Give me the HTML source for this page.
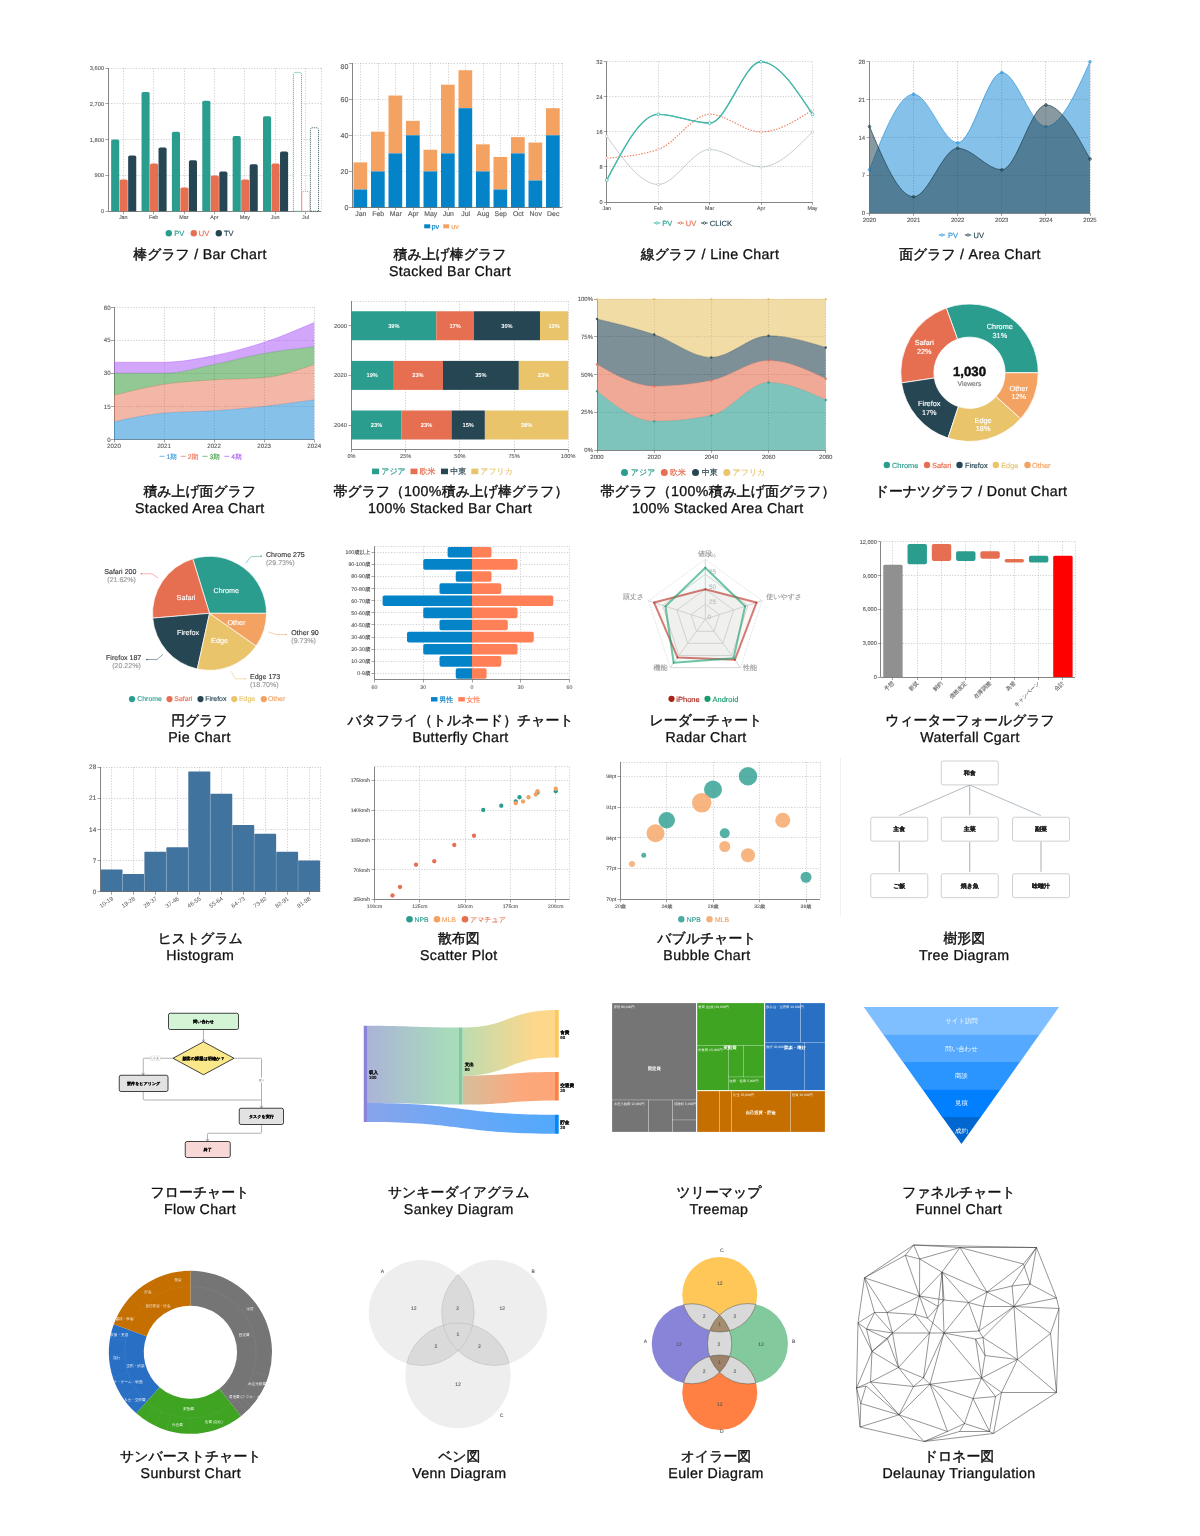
<!DOCTYPE html>
<html lang="ja"><head><meta charset="utf-8"><title>Chart types</title>
<style>
html,body{margin:0;padding:0;background:#fff}
body{width:1200px;height:1536px;overflow:hidden;font-family:"Liberation Sans",sans-serif}
svg{display:block;position:absolute;left:0;top:0;font-family:"Liberation Sans",sans-serif;text-rendering:geometricPrecision;will-change:transform}
</style></head><body>
<svg width="1200" height="1536" viewBox="0 0 1200 1536">
<line x1="105.3" y1="211.5" x2="108.3" y2="211.5" stroke="#666" stroke-width="0.6"/>
<text x="104.1" y="213.3" font-size="5.7" fill="#5a5a5a" text-anchor="end" stroke="#5a5a5a" stroke-width="0.11">0</text>
<line x1="108.3" y1="175.5" x2="321.25" y2="175.5" stroke="#bcbcbc" stroke-width="0.7" stroke-dasharray="1.2 1.55"/>
<line x1="105.3" y1="175.5" x2="108.3" y2="175.5" stroke="#666" stroke-width="0.6"/>
<text x="104.1" y="177.49" font-size="5.7" fill="#5a5a5a" text-anchor="end" stroke="#5a5a5a" stroke-width="0.11">900</text>
<line x1="108.3" y1="139.5" x2="321.25" y2="139.5" stroke="#bcbcbc" stroke-width="0.7" stroke-dasharray="1.2 1.55"/>
<line x1="105.3" y1="139.5" x2="108.3" y2="139.5" stroke="#666" stroke-width="0.6"/>
<text x="104.1" y="141.68" font-size="5.7" fill="#5a5a5a" text-anchor="end" stroke="#5a5a5a" stroke-width="0.11">1,800</text>
<line x1="108.3" y1="103.5" x2="321.25" y2="103.5" stroke="#bcbcbc" stroke-width="0.7" stroke-dasharray="1.2 1.55"/>
<line x1="105.3" y1="103.5" x2="108.3" y2="103.5" stroke="#666" stroke-width="0.6"/>
<text x="104.1" y="105.86" font-size="5.7" fill="#5a5a5a" text-anchor="end" stroke="#5a5a5a" stroke-width="0.11">2,700</text>
<line x1="108.3" y1="68.5" x2="321.25" y2="68.5" stroke="#bcbcbc" stroke-width="0.7" stroke-dasharray="1.2 1.55"/>
<line x1="105.3" y1="68.5" x2="108.3" y2="68.5" stroke="#666" stroke-width="0.6"/>
<text x="104.1" y="70.05" font-size="5.7" fill="#5a5a5a" text-anchor="end" stroke="#5a5a5a" stroke-width="0.11">3,600</text>
<line x1="123.5" y1="68" x2="123.5" y2="211.25" stroke="#bcbcbc" stroke-width="0.7" stroke-dasharray="1.2 1.55"/>
<line x1="153.5" y1="68" x2="153.5" y2="211.25" stroke="#bcbcbc" stroke-width="0.7" stroke-dasharray="1.2 1.55"/>
<line x1="184.5" y1="68" x2="184.5" y2="211.25" stroke="#bcbcbc" stroke-width="0.7" stroke-dasharray="1.2 1.55"/>
<line x1="214.5" y1="68" x2="214.5" y2="211.25" stroke="#bcbcbc" stroke-width="0.7" stroke-dasharray="1.2 1.55"/>
<line x1="244.5" y1="68" x2="244.5" y2="211.25" stroke="#bcbcbc" stroke-width="0.7" stroke-dasharray="1.2 1.55"/>
<line x1="275.5" y1="68" x2="275.5" y2="211.25" stroke="#bcbcbc" stroke-width="0.7" stroke-dasharray="1.2 1.55"/>
<line x1="305.5" y1="68" x2="305.5" y2="211.25" stroke="#bcbcbc" stroke-width="0.7" stroke-dasharray="1.2 1.55"/>
<line x1="321.5" y1="68" x2="321.5" y2="211.25" stroke="#bcbcbc" stroke-width="0.7" stroke-dasharray="1.2 1.55"/>
<line x1="108.5" y1="68" x2="108.5" y2="211.25" stroke="#666" stroke-width="0.8"/>
<line x1="108.3" y1="211.5" x2="321.25" y2="211.5" stroke="#666" stroke-width="0.8"/>
<line x1="123.5" y1="211.25" x2="123.5" y2="214.25" stroke="#666" stroke-width="0.6"/>
<text x="123.25" y="219.39" font-size="5.4" fill="#5a5a5a" text-anchor="middle" stroke="#5a5a5a" stroke-width="0.11">Jan</text>
<path d="M111.15 211.25V141.32Q111.15 139.62 112.85 139.62H117.55Q119.25 139.62 119.25 141.32V211.25Z" fill="#2a9d8f"/>
<path d="M119.65 211.25V181.12Q119.65 179.42 121.35 179.42H126.05Q127.75 179.42 127.75 181.12V211.25Z" fill="#e76f51"/>
<path d="M128.15 211.25V157.24Q128.15 155.54 129.85 155.54H134.55Q136.25 155.54 136.25 157.24V211.25Z" fill="#264653"/>
<line x1="153.5" y1="211.25" x2="153.5" y2="214.25" stroke="#666" stroke-width="0.6"/>
<text x="153.62" y="219.39" font-size="5.4" fill="#5a5a5a" text-anchor="middle" stroke="#5a5a5a" stroke-width="0.11">Feb</text>
<path d="M141.53 211.25V93.58Q141.53 91.88 143.22 91.88H147.93Q149.62 91.88 149.62 93.58V211.25Z" fill="#2a9d8f"/>
<path d="M150.03 211.25V165.2Q150.03 163.5 151.72 163.5H156.43Q158.12 163.5 158.12 165.2V211.25Z" fill="#e76f51"/>
<path d="M158.53 211.25V149.28Q158.53 147.58 160.22 147.58H164.93Q166.62 147.58 166.62 149.28V211.25Z" fill="#264653"/>
<line x1="184.5" y1="211.25" x2="184.5" y2="214.25" stroke="#666" stroke-width="0.6"/>
<text x="184" y="219.39" font-size="5.4" fill="#5a5a5a" text-anchor="middle" stroke="#5a5a5a" stroke-width="0.11">Mar</text>
<path d="M171.9 211.25V133.37Q171.9 131.67 173.6 131.67H178.3Q180 131.67 180 133.37V211.25Z" fill="#2a9d8f"/>
<path d="M180.4 211.25V189.07Q180.4 187.38 182.1 187.38H186.8Q188.5 187.38 188.5 189.07V211.25Z" fill="#e76f51"/>
<path d="M188.9 211.25V162.02Q188.9 160.32 190.6 160.32H195.3Q197 160.32 197 162.02V211.25Z" fill="#264653"/>
<line x1="214.5" y1="211.25" x2="214.5" y2="214.25" stroke="#666" stroke-width="0.6"/>
<text x="214.38" y="219.39" font-size="5.4" fill="#5a5a5a" text-anchor="middle" stroke="#5a5a5a" stroke-width="0.11">Apr</text>
<path d="M202.28 211.25V102.33Q202.28 100.63 203.97 100.63H208.68Q210.38 100.63 210.38 102.33V211.25Z" fill="#2a9d8f"/>
<path d="M210.78 211.25V177.14Q210.78 175.44 212.47 175.44H217.18Q218.88 175.44 218.88 177.14V211.25Z" fill="#e76f51"/>
<path d="M219.28 211.25V173.16Q219.28 171.46 220.97 171.46H225.68Q227.38 171.46 227.38 173.16V211.25Z" fill="#264653"/>
<line x1="244.5" y1="211.25" x2="244.5" y2="214.25" stroke="#666" stroke-width="0.6"/>
<text x="244.75" y="219.39" font-size="5.4" fill="#5a5a5a" text-anchor="middle" stroke="#5a5a5a" stroke-width="0.11">May</text>
<path d="M232.65 211.25V137.74Q232.65 136.04 234.35 136.04H239.05Q240.75 136.04 240.75 137.74V211.25Z" fill="#2a9d8f"/>
<path d="M241.15 211.25V181.12Q241.15 179.42 242.85 179.42H247.55Q249.25 179.42 249.25 181.12V211.25Z" fill="#e76f51"/>
<path d="M249.65 211.25V166Q249.65 164.3 251.35 164.3H256.05Q257.75 164.3 257.75 166V211.25Z" fill="#264653"/>
<line x1="275.5" y1="211.25" x2="275.5" y2="214.25" stroke="#666" stroke-width="0.6"/>
<text x="275.12" y="219.39" font-size="5.4" fill="#5a5a5a" text-anchor="middle" stroke="#5a5a5a" stroke-width="0.11">Jun</text>
<path d="M263.02 211.25V117.85Q263.02 116.15 264.72 116.15H269.43Q271.12 116.15 271.12 117.85V211.25Z" fill="#2a9d8f"/>
<path d="M271.52 211.25V165.2Q271.52 163.5 273.22 163.5H277.93Q279.62 163.5 279.62 165.2V211.25Z" fill="#e76f51"/>
<path d="M280.02 211.25V153.26Q280.02 151.56 281.72 151.56H286.43Q288.12 151.56 288.12 153.26V211.25Z" fill="#264653"/>
<line x1="305.5" y1="211.25" x2="305.5" y2="214.25" stroke="#666" stroke-width="0.6"/>
<text x="305.5" y="219.39" font-size="5.4" fill="#5a5a5a" text-anchor="middle" stroke="#5a5a5a" stroke-width="0.11">Jul</text>
<path d="M293.4 211.25V74.58Q293.4 72.38 295.6 72.38H299.3Q301.5 72.38 301.5 74.58V211.25Z" fill="#fff" stroke="#2a9d8f" stroke-width="0.9" stroke-dasharray="1 1"/>
<path d="M301.9 211.25V193.55Q301.9 191.35 304.1 191.35H307.8Q310 191.35 310 193.55V211.25Z" fill="#fff" stroke="#e76f51" stroke-width="0.9" stroke-dasharray="1 1"/>
<path d="M310.4 211.25V129.89Q310.4 127.69 312.6 127.69H316.3Q318.5 127.69 318.5 129.89V211.25Z" fill="#fff" stroke="#264653" stroke-width="0.9" stroke-dasharray="1 1"/>
<circle cx="168.8" cy="233.2" r="3.2" fill="#2a9d8f"/>
<text x="174.3" y="235.9" font-size="7.5" fill="#2a9d8f" stroke="#2a9d8f" stroke-width="0.15">PV</text>
<circle cx="193.8" cy="233.2" r="3.2" fill="#e76f51"/>
<text x="198.8" y="235.9" font-size="7.5" fill="#e76f51" stroke="#e76f51" stroke-width="0.15">UV</text>
<circle cx="218.8" cy="233.2" r="3.2" fill="#264653"/>
<text x="224" y="235.9" font-size="7.5" fill="#264653" stroke="#264653" stroke-width="0.15">TV</text>
<text x="200" y="258.7" font-size="14.2" fill="#111" stroke="#111" stroke-width="0.2" text-anchor="middle"><tspan font-size="13.9" stroke-width="0.42">棒グラフ</tspan><tspan letter-spacing="0.36" stroke-width="0.3"> / Bar Chart</tspan></text>
<line x1="349" y1="207.5" x2="352" y2="207.5" stroke="#666" stroke-width="0.6"/>
<text x="348.4" y="210.12" font-size="7" fill="#5a5a5a" text-anchor="end" stroke="#5a5a5a" stroke-width="0.14">0</text>
<line x1="352" y1="171.5" x2="562" y2="171.5" stroke="#bcbcbc" stroke-width="0.7" stroke-dasharray="1.2 1.55"/>
<line x1="349" y1="171.5" x2="352" y2="171.5" stroke="#666" stroke-width="0.6"/>
<text x="348.4" y="173.97" font-size="7" fill="#5a5a5a" text-anchor="end" stroke="#5a5a5a" stroke-width="0.14">20</text>
<line x1="352" y1="135.5" x2="562" y2="135.5" stroke="#bcbcbc" stroke-width="0.7" stroke-dasharray="1.2 1.55"/>
<line x1="349" y1="135.5" x2="352" y2="135.5" stroke="#666" stroke-width="0.6"/>
<text x="348.4" y="137.82" font-size="7" fill="#5a5a5a" text-anchor="end" stroke="#5a5a5a" stroke-width="0.14">40</text>
<line x1="352" y1="99.5" x2="562" y2="99.5" stroke="#bcbcbc" stroke-width="0.7" stroke-dasharray="1.2 1.55"/>
<line x1="349" y1="99.5" x2="352" y2="99.5" stroke="#666" stroke-width="0.6"/>
<text x="348.4" y="101.67" font-size="7" fill="#5a5a5a" text-anchor="end" stroke="#5a5a5a" stroke-width="0.14">60</text>
<line x1="352" y1="63.5" x2="562" y2="63.5" stroke="#bcbcbc" stroke-width="0.7" stroke-dasharray="1.2 1.55"/>
<line x1="349" y1="63.5" x2="352" y2="63.5" stroke="#666" stroke-width="0.6"/>
<text x="348.4" y="68.52" font-size="7" fill="#5a5a5a" text-anchor="end" stroke="#5a5a5a" stroke-width="0.14">80</text>
<line x1="360.5" y1="63" x2="360.5" y2="207.6" stroke="#bcbcbc" stroke-width="0.7" stroke-dasharray="1.2 1.55"/>
<line x1="378.5" y1="63" x2="378.5" y2="207.6" stroke="#bcbcbc" stroke-width="0.7" stroke-dasharray="1.2 1.55"/>
<line x1="395.5" y1="63" x2="395.5" y2="207.6" stroke="#bcbcbc" stroke-width="0.7" stroke-dasharray="1.2 1.55"/>
<line x1="413.5" y1="63" x2="413.5" y2="207.6" stroke="#bcbcbc" stroke-width="0.7" stroke-dasharray="1.2 1.55"/>
<line x1="430.5" y1="63" x2="430.5" y2="207.6" stroke="#bcbcbc" stroke-width="0.7" stroke-dasharray="1.2 1.55"/>
<line x1="448.5" y1="63" x2="448.5" y2="207.6" stroke="#bcbcbc" stroke-width="0.7" stroke-dasharray="1.2 1.55"/>
<line x1="465.5" y1="63" x2="465.5" y2="207.6" stroke="#bcbcbc" stroke-width="0.7" stroke-dasharray="1.2 1.55"/>
<line x1="483.5" y1="63" x2="483.5" y2="207.6" stroke="#bcbcbc" stroke-width="0.7" stroke-dasharray="1.2 1.55"/>
<line x1="500.5" y1="63" x2="500.5" y2="207.6" stroke="#bcbcbc" stroke-width="0.7" stroke-dasharray="1.2 1.55"/>
<line x1="518.5" y1="63" x2="518.5" y2="207.6" stroke="#bcbcbc" stroke-width="0.7" stroke-dasharray="1.2 1.55"/>
<line x1="535.5" y1="63" x2="535.5" y2="207.6" stroke="#bcbcbc" stroke-width="0.7" stroke-dasharray="1.2 1.55"/>
<line x1="553.5" y1="63" x2="553.5" y2="207.6" stroke="#bcbcbc" stroke-width="0.7" stroke-dasharray="1.2 1.55"/>
<line x1="562.5" y1="63" x2="562.5" y2="207.6" stroke="#bcbcbc" stroke-width="0.7" stroke-dasharray="1.2 1.55"/>
<rect x="353.5" y="162.41" width="13.7" height="27.11" fill="#f4a261"/>
<rect x="353.5" y="189.53" width="13.7" height="18.07" fill="#0583c9"/>
<line x1="360.5" y1="207.6" x2="360.5" y2="210.1" stroke="#666" stroke-width="0.6"/>
<text x="360.75" y="216.38" font-size="6.9" fill="#5a5a5a" text-anchor="middle" stroke="#5a5a5a" stroke-width="0.14">Jan</text>
<rect x="371" y="131.69" width="13.7" height="39.76" fill="#f4a261"/>
<rect x="371" y="171.45" width="13.7" height="36.15" fill="#0583c9"/>
<line x1="378.5" y1="207.6" x2="378.5" y2="210.1" stroke="#666" stroke-width="0.6"/>
<text x="378.25" y="216.38" font-size="6.9" fill="#5a5a5a" text-anchor="middle" stroke="#5a5a5a" stroke-width="0.14">Feb</text>
<rect x="388.5" y="95.54" width="13.7" height="57.84" fill="#f4a261"/>
<rect x="388.5" y="153.38" width="13.7" height="54.23" fill="#0583c9"/>
<line x1="395.5" y1="207.6" x2="395.5" y2="210.1" stroke="#666" stroke-width="0.6"/>
<text x="395.75" y="216.38" font-size="6.9" fill="#5a5a5a" text-anchor="middle" stroke="#5a5a5a" stroke-width="0.14">Mar</text>
<rect x="406" y="120.84" width="13.7" height="14.46" fill="#f4a261"/>
<rect x="406" y="135.3" width="13.7" height="72.3" fill="#0583c9"/>
<line x1="413.5" y1="207.6" x2="413.5" y2="210.1" stroke="#666" stroke-width="0.6"/>
<text x="413.25" y="216.38" font-size="6.9" fill="#5a5a5a" text-anchor="middle" stroke="#5a5a5a" stroke-width="0.14">Apr</text>
<rect x="423.5" y="149.76" width="13.7" height="21.69" fill="#f4a261"/>
<rect x="423.5" y="171.45" width="13.7" height="36.15" fill="#0583c9"/>
<line x1="430.5" y1="207.6" x2="430.5" y2="210.1" stroke="#666" stroke-width="0.6"/>
<text x="430.75" y="216.38" font-size="6.9" fill="#5a5a5a" text-anchor="middle" stroke="#5a5a5a" stroke-width="0.14">May</text>
<rect x="441" y="84.69" width="13.7" height="68.69" fill="#f4a261"/>
<rect x="441" y="153.38" width="13.7" height="54.23" fill="#0583c9"/>
<line x1="448.5" y1="207.6" x2="448.5" y2="210.1" stroke="#666" stroke-width="0.6"/>
<text x="448.25" y="216.38" font-size="6.9" fill="#5a5a5a" text-anchor="middle" stroke="#5a5a5a" stroke-width="0.14">Jun</text>
<rect x="458.5" y="70.23" width="13.7" height="37.96" fill="#f4a261"/>
<rect x="458.5" y="108.19" width="13.7" height="99.41" fill="#0583c9"/>
<line x1="465.5" y1="207.6" x2="465.5" y2="210.1" stroke="#666" stroke-width="0.6"/>
<text x="465.75" y="216.38" font-size="6.9" fill="#5a5a5a" text-anchor="middle" stroke="#5a5a5a" stroke-width="0.14">Jul</text>
<rect x="476" y="144.34" width="13.7" height="27.11" fill="#f4a261"/>
<rect x="476" y="171.45" width="13.7" height="36.15" fill="#0583c9"/>
<line x1="483.5" y1="207.6" x2="483.5" y2="210.1" stroke="#666" stroke-width="0.6"/>
<text x="483.25" y="216.38" font-size="6.9" fill="#5a5a5a" text-anchor="middle" stroke="#5a5a5a" stroke-width="0.14">Aug</text>
<rect x="493.5" y="156.99" width="13.7" height="32.53" fill="#f4a261"/>
<rect x="493.5" y="189.53" width="13.7" height="18.07" fill="#0583c9"/>
<line x1="500.5" y1="207.6" x2="500.5" y2="210.1" stroke="#666" stroke-width="0.6"/>
<text x="500.75" y="216.38" font-size="6.9" fill="#5a5a5a" text-anchor="middle" stroke="#5a5a5a" stroke-width="0.14">Sep</text>
<rect x="511" y="137.11" width="13.7" height="16.27" fill="#f4a261"/>
<rect x="511" y="153.38" width="13.7" height="54.23" fill="#0583c9"/>
<line x1="518.5" y1="207.6" x2="518.5" y2="210.1" stroke="#666" stroke-width="0.6"/>
<text x="518.25" y="216.38" font-size="6.9" fill="#5a5a5a" text-anchor="middle" stroke="#5a5a5a" stroke-width="0.14">Oct</text>
<rect x="528.5" y="142.53" width="13.7" height="37.96" fill="#f4a261"/>
<rect x="528.5" y="180.49" width="13.7" height="27.11" fill="#0583c9"/>
<line x1="535.5" y1="207.6" x2="535.5" y2="210.1" stroke="#666" stroke-width="0.6"/>
<text x="535.75" y="216.38" font-size="6.9" fill="#5a5a5a" text-anchor="middle" stroke="#5a5a5a" stroke-width="0.14">Nov</text>
<rect x="546" y="108.19" width="13.7" height="27.11" fill="#f4a261"/>
<rect x="546" y="135.3" width="13.7" height="72.3" fill="#0583c9"/>
<line x1="553.5" y1="207.6" x2="553.5" y2="210.1" stroke="#666" stroke-width="0.6"/>
<text x="553.25" y="216.38" font-size="6.9" fill="#5a5a5a" text-anchor="middle" stroke="#5a5a5a" stroke-width="0.14">Dec</text>
<line x1="352.5" y1="63" x2="352.5" y2="207.6" stroke="#666" stroke-width="0.8"/>
<line x1="352" y1="207.5" x2="562" y2="207.5" stroke="#666" stroke-width="0.8"/>
<rect x="424.2" y="224.3" width="6" height="4" fill="#0583c9"/>
<text x="431.5" y="228.63" font-size="7.3" fill="#0583c9" stroke="#0583c9" stroke-width="0.15">pv</text>
<rect x="443.2" y="224.3" width="6" height="4" fill="#f4a261"/>
<text x="451.2" y="228.63" font-size="7.3" fill="#f4a261" stroke="#f4a261" stroke-width="0.15">uv</text>
<text x="450" y="258.7" font-size="14.2" fill="#111" stroke="#111" stroke-width="0.2" text-anchor="middle"><tspan font-size="13.9" stroke-width="0.42">積み上げ棒グラフ</tspan></text>
<text x="450" y="275.9" font-size="14.2" fill="#111" stroke="#111" stroke-width="0.2" text-anchor="middle"><tspan letter-spacing="0.36" stroke-width="0.3">Stacked Bar Chart</tspan></text>
<line x1="603.8" y1="202.5" x2="606.8" y2="202.5" stroke="#666" stroke-width="0.6"/>
<text x="602.5" y="204.02" font-size="5.6" fill="#5a5a5a" text-anchor="end" stroke="#5a5a5a" stroke-width="0.11">0</text>
<line x1="606.8" y1="166.5" x2="812.5" y2="166.5" stroke="#bcbcbc" stroke-width="0.7" stroke-dasharray="1.2 1.55"/>
<line x1="603.8" y1="166.5" x2="606.8" y2="166.5" stroke="#666" stroke-width="0.6"/>
<text x="602.5" y="168.95" font-size="5.6" fill="#5a5a5a" text-anchor="end" stroke="#5a5a5a" stroke-width="0.11">8</text>
<line x1="606.8" y1="131.5" x2="812.5" y2="131.5" stroke="#bcbcbc" stroke-width="0.7" stroke-dasharray="1.2 1.55"/>
<line x1="603.8" y1="131.5" x2="606.8" y2="131.5" stroke="#666" stroke-width="0.6"/>
<text x="602.5" y="133.89" font-size="5.6" fill="#5a5a5a" text-anchor="end" stroke="#5a5a5a" stroke-width="0.11">16</text>
<line x1="606.8" y1="96.5" x2="812.5" y2="96.5" stroke="#bcbcbc" stroke-width="0.7" stroke-dasharray="1.2 1.55"/>
<line x1="603.8" y1="96.5" x2="606.8" y2="96.5" stroke="#666" stroke-width="0.6"/>
<text x="602.5" y="98.83" font-size="5.6" fill="#5a5a5a" text-anchor="end" stroke="#5a5a5a" stroke-width="0.11">24</text>
<line x1="606.8" y1="61.5" x2="812.5" y2="61.5" stroke="#bcbcbc" stroke-width="0.7" stroke-dasharray="1.2 1.55"/>
<line x1="603.8" y1="61.5" x2="606.8" y2="61.5" stroke="#666" stroke-width="0.6"/>
<text x="602.5" y="63.77" font-size="5.6" fill="#5a5a5a" text-anchor="end" stroke="#5a5a5a" stroke-width="0.11">32</text>
<line x1="606.5" y1="202" x2="606.5" y2="205" stroke="#666" stroke-width="0.6"/>
<text x="606.8" y="210.11" font-size="5.3" fill="#5a5a5a" text-anchor="middle" stroke="#5a5a5a" stroke-width="0.11">Jan</text>
<line x1="658.5" y1="61.75" x2="658.5" y2="202" stroke="#bcbcbc" stroke-width="0.7" stroke-dasharray="1.2 1.55"/>
<line x1="658.5" y1="202" x2="658.5" y2="205" stroke="#666" stroke-width="0.6"/>
<text x="658.22" y="210.11" font-size="5.3" fill="#5a5a5a" text-anchor="middle" stroke="#5a5a5a" stroke-width="0.11">Feb</text>
<line x1="709.5" y1="61.75" x2="709.5" y2="202" stroke="#bcbcbc" stroke-width="0.7" stroke-dasharray="1.2 1.55"/>
<line x1="709.5" y1="202" x2="709.5" y2="205" stroke="#666" stroke-width="0.6"/>
<text x="709.65" y="210.11" font-size="5.3" fill="#5a5a5a" text-anchor="middle" stroke="#5a5a5a" stroke-width="0.11">Mar</text>
<line x1="761.5" y1="61.75" x2="761.5" y2="202" stroke="#bcbcbc" stroke-width="0.7" stroke-dasharray="1.2 1.55"/>
<line x1="761.5" y1="202" x2="761.5" y2="205" stroke="#666" stroke-width="0.6"/>
<text x="761.08" y="210.11" font-size="5.3" fill="#5a5a5a" text-anchor="middle" stroke="#5a5a5a" stroke-width="0.11">Apr</text>
<line x1="812.5" y1="61.75" x2="812.5" y2="202" stroke="#bcbcbc" stroke-width="0.7" stroke-dasharray="1.2 1.55"/>
<line x1="812.5" y1="202" x2="812.5" y2="205" stroke="#666" stroke-width="0.6"/>
<text x="812.5" y="210.11" font-size="5.3" fill="#5a5a5a" text-anchor="middle" stroke="#5a5a5a" stroke-width="0.11">May</text>
<line x1="606.5" y1="61.75" x2="606.5" y2="202" stroke="#666" stroke-width="0.8"/>
<line x1="606.8" y1="202.5" x2="812.5" y2="202.5" stroke="#666" stroke-width="0.8"/>
<path d="M606.8 136.26C623.94 160.36 641.08 184.47 658.22 184.47C675.37 184.47 692.51 149.41 709.65 149.41C726.79 149.41 743.93 166.94 761.08 166.94C778.22 166.94 795.36 149.41 812.5 131.88" fill="none" stroke="#7f8f96" stroke-width="0.45"/>
<circle cx="606.8" cy="136.26" r="1.3" fill="#fff" stroke="#9aa7ad" stroke-width="0.4"/>
<circle cx="658.22" cy="184.47" r="1.3" fill="#fff" stroke="#9aa7ad" stroke-width="0.4"/>
<circle cx="709.65" cy="149.41" r="1.3" fill="#fff" stroke="#9aa7ad" stroke-width="0.4"/>
<circle cx="761.08" cy="166.94" r="1.3" fill="#fff" stroke="#9aa7ad" stroke-width="0.4"/>
<circle cx="812.5" cy="131.88" r="1.3" fill="#fff" stroke="#9aa7ad" stroke-width="0.4"/>
<path d="M606.8 158.17C623.94 156.71 641.08 155.25 658.22 149.41C675.37 143.56 692.51 114.34 709.65 114.34C726.79 114.34 743.93 131.88 761.08 131.88C778.22 131.88 795.36 120.92 812.5 109.96" fill="none" stroke="#ee7650" stroke-width="1.1" stroke-dasharray="1.4 1.5"/>
<circle cx="606.8" cy="158.17" r="1.2" fill="#fff" stroke="#e76f51" stroke-width="0.5" stroke-dasharray="0.8 0.6"/>
<circle cx="658.22" cy="149.41" r="1.2" fill="#fff" stroke="#e76f51" stroke-width="0.5" stroke-dasharray="0.8 0.6"/>
<circle cx="709.65" cy="114.34" r="1.2" fill="#fff" stroke="#e76f51" stroke-width="0.5" stroke-dasharray="0.8 0.6"/>
<circle cx="761.08" cy="131.88" r="1.2" fill="#fff" stroke="#e76f51" stroke-width="0.5" stroke-dasharray="0.8 0.6"/>
<circle cx="812.5" cy="109.96" r="1.2" fill="#fff" stroke="#e76f51" stroke-width="0.5" stroke-dasharray="0.8 0.6"/>
<path d="M606.8 180.09C623.94 147.21 641.08 114.34 658.22 114.34C675.37 114.34 692.51 123.11 709.65 123.11C726.79 123.11 743.93 61.75 761.08 61.75C778.22 61.75 795.36 88.05 812.5 114.34" fill="none" stroke="#2a9d8f" stroke-width="1.3"/>
<path d="M606.8 180.09C623.94 147.21 641.08 114.34 658.22 114.34C675.37 114.34 692.51 123.11 709.65 123.11C726.79 123.11 743.93 61.75 761.08 61.75C778.22 61.75 795.36 88.05 812.5 114.34" fill="none" stroke="#4fcfc0" stroke-width="0.7"/>
<circle cx="606.8" cy="180.09" r="1.45" fill="#fff" stroke="#2fb5a5" stroke-width="0.75"/>
<circle cx="658.22" cy="114.34" r="1.45" fill="#fff" stroke="#2fb5a5" stroke-width="0.75"/>
<circle cx="709.65" cy="123.11" r="1.45" fill="#fff" stroke="#2fb5a5" stroke-width="0.75"/>
<circle cx="761.08" cy="61.75" r="1.45" fill="#fff" stroke="#2fb5a5" stroke-width="0.75"/>
<circle cx="812.5" cy="114.34" r="1.45" fill="#fff" stroke="#2fb5a5" stroke-width="0.75"/>
<line x1="653.7" y1="223" x2="660.3" y2="223" stroke="#3dbdaf" stroke-width="1"/>
<circle cx="657" cy="223" r="1.2" fill="#fff" stroke="#3dbdaf" stroke-width="0.8"/>
<text x="662.3" y="225.7" font-size="7.5" fill="#2a9d8f" stroke="#2a9d8f" stroke-width="0.15">PV</text>
<line x1="677.3" y1="223" x2="683.9" y2="223" stroke="#e76f51" stroke-width="1"/>
<circle cx="680.6" cy="223" r="1.2" fill="#fff" stroke="#e76f51" stroke-width="0.8"/>
<text x="685.8" y="225.7" font-size="7.5" fill="#e76f51" stroke="#e76f51" stroke-width="0.15">UV</text>
<line x1="701.1" y1="223" x2="707.7" y2="223" stroke="#264653" stroke-width="1"/>
<circle cx="704.4" cy="223" r="1.2" fill="#fff" stroke="#264653" stroke-width="0.8"/>
<text x="709.8" y="225.7" font-size="7.5" fill="#264653" stroke="#264653" stroke-width="0.15">CLICK</text>
<text x="710" y="258.7" font-size="14.2" fill="#111" stroke="#111" stroke-width="0.2" text-anchor="middle"><tspan font-size="13.9" stroke-width="0.42">線グラフ</tspan><tspan letter-spacing="0.36" stroke-width="0.3"> / Line Chart</tspan></text>
<line x1="866.5" y1="213.5" x2="869.5" y2="213.5" stroke="#666" stroke-width="0.6"/>
<text x="865.2" y="215.16" font-size="6" fill="#5a5a5a" text-anchor="end" stroke="#5a5a5a" stroke-width="0.12">0</text>
<line x1="869.5" y1="175.5" x2="1090" y2="175.5" stroke="#bcbcbc" stroke-width="0.7" stroke-dasharray="1.2 1.55"/>
<line x1="866.5" y1="175.5" x2="869.5" y2="175.5" stroke="#666" stroke-width="0.6"/>
<text x="865.2" y="177.35" font-size="6" fill="#5a5a5a" text-anchor="end" stroke="#5a5a5a" stroke-width="0.12">7</text>
<line x1="869.5" y1="137.5" x2="1090" y2="137.5" stroke="#bcbcbc" stroke-width="0.7" stroke-dasharray="1.2 1.55"/>
<line x1="866.5" y1="137.5" x2="869.5" y2="137.5" stroke="#666" stroke-width="0.6"/>
<text x="865.2" y="139.53" font-size="6" fill="#5a5a5a" text-anchor="end" stroke="#5a5a5a" stroke-width="0.12">14</text>
<line x1="869.5" y1="99.5" x2="1090" y2="99.5" stroke="#bcbcbc" stroke-width="0.7" stroke-dasharray="1.2 1.55"/>
<line x1="866.5" y1="99.5" x2="869.5" y2="99.5" stroke="#666" stroke-width="0.6"/>
<text x="865.2" y="101.72" font-size="6" fill="#5a5a5a" text-anchor="end" stroke="#5a5a5a" stroke-width="0.12">21</text>
<line x1="869.5" y1="61.5" x2="1090" y2="61.5" stroke="#bcbcbc" stroke-width="0.7" stroke-dasharray="1.2 1.55"/>
<line x1="866.5" y1="61.5" x2="869.5" y2="61.5" stroke="#666" stroke-width="0.6"/>
<text x="865.2" y="63.91" font-size="6" fill="#5a5a5a" text-anchor="end" stroke="#5a5a5a" stroke-width="0.12">28</text>
<line x1="869.5" y1="213" x2="869.5" y2="216" stroke="#666" stroke-width="0.6"/>
<text x="869.5" y="222.06" font-size="6" fill="#5a5a5a" text-anchor="middle" stroke="#5a5a5a" stroke-width="0.12">2020</text>
<line x1="913.5" y1="61.75" x2="913.5" y2="213" stroke="#bcbcbc" stroke-width="0.7" stroke-dasharray="1.2 1.55"/>
<line x1="913.5" y1="213" x2="913.5" y2="216" stroke="#666" stroke-width="0.6"/>
<text x="913.6" y="222.06" font-size="6" fill="#5a5a5a" text-anchor="middle" stroke="#5a5a5a" stroke-width="0.12">2021</text>
<line x1="957.5" y1="61.75" x2="957.5" y2="213" stroke="#bcbcbc" stroke-width="0.7" stroke-dasharray="1.2 1.55"/>
<line x1="957.5" y1="213" x2="957.5" y2="216" stroke="#666" stroke-width="0.6"/>
<text x="957.7" y="222.06" font-size="6" fill="#5a5a5a" text-anchor="middle" stroke="#5a5a5a" stroke-width="0.12">2022</text>
<line x1="1001.5" y1="61.75" x2="1001.5" y2="213" stroke="#bcbcbc" stroke-width="0.7" stroke-dasharray="1.2 1.55"/>
<line x1="1001.5" y1="213" x2="1001.5" y2="216" stroke="#666" stroke-width="0.6"/>
<text x="1001.8" y="222.06" font-size="6" fill="#5a5a5a" text-anchor="middle" stroke="#5a5a5a" stroke-width="0.12">2023</text>
<line x1="1045.5" y1="61.75" x2="1045.5" y2="213" stroke="#bcbcbc" stroke-width="0.7" stroke-dasharray="1.2 1.55"/>
<line x1="1045.5" y1="213" x2="1045.5" y2="216" stroke="#666" stroke-width="0.6"/>
<text x="1045.9" y="222.06" font-size="6" fill="#5a5a5a" text-anchor="middle" stroke="#5a5a5a" stroke-width="0.12">2024</text>
<line x1="1090.5" y1="61.75" x2="1090.5" y2="213" stroke="#bcbcbc" stroke-width="0.7" stroke-dasharray="1.2 1.55"/>
<line x1="1090.5" y1="213" x2="1090.5" y2="216" stroke="#666" stroke-width="0.6"/>
<text x="1090" y="222.06" font-size="6" fill="#5a5a5a" text-anchor="middle" stroke="#5a5a5a" stroke-width="0.12">2025</text>
<line x1="869.5" y1="61.75" x2="869.5" y2="213" stroke="#666" stroke-width="0.8"/>
<line x1="869.5" y1="213.5" x2="1090" y2="213.5" stroke="#666" stroke-width="0.8"/>
<path d="M869.5 169.79C884.2 131.97 898.9 94.16 913.6 94.16C928.3 94.16 943 142.78 957.7 142.78C972.4 142.78 987.1 72.55 1001.8 72.55C1016.5 72.55 1031.2 126.57 1045.9 126.57C1060.6 126.57 1075.3 94.16 1090 61.75L1090 213L869.5 213Z" fill="#3498db" fill-opacity="0.6"/>
<path d="M869.5 169.79C884.2 131.97 898.9 94.16 913.6 94.16C928.3 94.16 943 142.78 957.7 142.78C972.4 142.78 987.1 72.55 1001.8 72.55C1016.5 72.55 1031.2 126.57 1045.9 126.57C1060.6 126.57 1075.3 94.16 1090 61.75" fill="none" stroke="#3498db" stroke-width="0.7"/>
<circle cx="869.5" cy="169.79" r="1.4" fill="#3498db" stroke="#3498db" stroke-width="0.6" fill-opacity="0.5"/>
<circle cx="913.6" cy="94.16" r="1.4" fill="#3498db" stroke="#3498db" stroke-width="0.6" fill-opacity="0.5"/>
<circle cx="957.7" cy="142.78" r="1.4" fill="#3498db" stroke="#3498db" stroke-width="0.6" fill-opacity="0.5"/>
<circle cx="1001.8" cy="72.55" r="1.4" fill="#3498db" stroke="#3498db" stroke-width="0.6" fill-opacity="0.5"/>
<circle cx="1045.9" cy="126.57" r="1.4" fill="#3498db" stroke="#3498db" stroke-width="0.6" fill-opacity="0.5"/>
<circle cx="1090" cy="61.75" r="1.4" fill="#3498db" stroke="#3498db" stroke-width="0.6" fill-opacity="0.5"/>
<path d="M869.5 126.57C884.2 161.68 898.9 196.79 913.6 196.79C928.3 196.79 943 148.18 957.7 148.18C972.4 148.18 987.1 169.79 1001.8 169.79C1016.5 169.79 1031.2 104.96 1045.9 104.96C1060.6 104.96 1075.3 131.97 1090 158.98L1090 213L869.5 213Z" fill="#264653" fill-opacity="0.55"/>
<path d="M869.5 126.57C884.2 161.68 898.9 196.79 913.6 196.79C928.3 196.79 943 148.18 957.7 148.18C972.4 148.18 987.1 169.79 1001.8 169.79C1016.5 169.79 1031.2 104.96 1045.9 104.96C1060.6 104.96 1075.3 131.97 1090 158.98" fill="none" stroke="#264653" stroke-width="0.75"/>
<circle cx="869.5" cy="126.57" r="1.4" fill="#264653" stroke="#264653" stroke-width="0.6" fill-opacity="0.5"/>
<circle cx="913.6" cy="196.79" r="1.4" fill="#264653" stroke="#264653" stroke-width="0.6" fill-opacity="0.5"/>
<circle cx="957.7" cy="148.18" r="1.4" fill="#264653" stroke="#264653" stroke-width="0.6" fill-opacity="0.5"/>
<circle cx="1001.8" cy="169.79" r="1.4" fill="#264653" stroke="#264653" stroke-width="0.6" fill-opacity="0.5"/>
<circle cx="1045.9" cy="104.96" r="1.4" fill="#264653" stroke="#264653" stroke-width="0.6" fill-opacity="0.5"/>
<circle cx="1090" cy="158.98" r="1.4" fill="#264653" stroke="#264653" stroke-width="0.6" fill-opacity="0.5"/>
<line x1="869.5" y1="175.19" x2="1090" y2="175.19" stroke="#000" stroke-width="0.5" stroke-dasharray="1.2 1.55" stroke-opacity="0.13"/>
<line x1="869.5" y1="137.38" x2="1090" y2="137.38" stroke="#000" stroke-width="0.5" stroke-dasharray="1.2 1.55" stroke-opacity="0.13"/>
<line x1="869.5" y1="99.56" x2="1090" y2="99.56" stroke="#000" stroke-width="0.5" stroke-dasharray="1.2 1.55" stroke-opacity="0.13"/>
<line x1="913.6" y1="61.75" x2="913.6" y2="213" stroke="#000" stroke-width="0.5" stroke-dasharray="1.2 1.55" stroke-opacity="0.13"/>
<line x1="957.7" y1="61.75" x2="957.7" y2="213" stroke="#000" stroke-width="0.5" stroke-dasharray="1.2 1.55" stroke-opacity="0.13"/>
<line x1="1001.8" y1="61.75" x2="1001.8" y2="213" stroke="#000" stroke-width="0.5" stroke-dasharray="1.2 1.55" stroke-opacity="0.13"/>
<line x1="1045.9" y1="61.75" x2="1045.9" y2="213" stroke="#000" stroke-width="0.5" stroke-dasharray="1.2 1.55" stroke-opacity="0.13"/>
<line x1="1090" y1="61.75" x2="1090" y2="213" stroke="#000" stroke-width="0.5" stroke-dasharray="1.2 1.55" stroke-opacity="0.13"/>
<line x1="938.8" y1="235" x2="945.2" y2="235" stroke="#3498db" stroke-width="1"/>
<circle cx="942" cy="235" r="1.2" fill="#fff" stroke="#3498db" stroke-width="0.8"/>
<text x="948" y="237.7" font-size="7.5" fill="#3498db" stroke="#3498db" stroke-width="0.15">PV</text>
<line x1="964.8" y1="235" x2="971.2" y2="235" stroke="#264653" stroke-width="1"/>
<circle cx="968" cy="235" r="1.2" fill="#fff" stroke="#264653" stroke-width="0.8"/>
<text x="973.6" y="237.7" font-size="7.5" fill="#264653" stroke="#264653" stroke-width="0.15">UV</text>
<text x="970" y="258.7" font-size="14.2" fill="#111" stroke="#111" stroke-width="0.2" text-anchor="middle"><tspan font-size="13.9" stroke-width="0.42">面グラフ</tspan><tspan letter-spacing="0.36" stroke-width="0.3"> / Area Chart</tspan></text>
<line x1="111" y1="439.5" x2="114" y2="439.5" stroke="#666" stroke-width="0.6"/>
<text x="110.6" y="441.73" font-size="6.2" fill="#5a5a5a" text-anchor="end" stroke="#5a5a5a" stroke-width="0.12">0</text>
<line x1="114" y1="406.5" x2="314.25" y2="406.5" stroke="#bcbcbc" stroke-width="0.7" stroke-dasharray="1.2 1.55"/>
<line x1="111" y1="406.5" x2="114" y2="406.5" stroke="#666" stroke-width="0.6"/>
<text x="110.6" y="408.61" font-size="6.2" fill="#5a5a5a" text-anchor="end" stroke="#5a5a5a" stroke-width="0.12">15</text>
<line x1="114" y1="373.5" x2="314.25" y2="373.5" stroke="#bcbcbc" stroke-width="0.7" stroke-dasharray="1.2 1.55"/>
<line x1="111" y1="373.5" x2="114" y2="373.5" stroke="#666" stroke-width="0.6"/>
<text x="110.6" y="375.49" font-size="6.2" fill="#5a5a5a" text-anchor="end" stroke="#5a5a5a" stroke-width="0.12">30</text>
<line x1="114" y1="340.5" x2="314.25" y2="340.5" stroke="#bcbcbc" stroke-width="0.7" stroke-dasharray="1.2 1.55"/>
<line x1="111" y1="340.5" x2="114" y2="340.5" stroke="#666" stroke-width="0.6"/>
<text x="110.6" y="342.37" font-size="6.2" fill="#5a5a5a" text-anchor="end" stroke="#5a5a5a" stroke-width="0.12">45</text>
<line x1="114" y1="307.5" x2="314.25" y2="307.5" stroke="#bcbcbc" stroke-width="0.7" stroke-dasharray="1.2 1.55"/>
<line x1="111" y1="307.5" x2="114" y2="307.5" stroke="#666" stroke-width="0.6"/>
<text x="110.6" y="310.45" font-size="6.2" fill="#5a5a5a" text-anchor="end" stroke="#5a5a5a" stroke-width="0.12">60</text>
<line x1="114.5" y1="439.5" x2="114.5" y2="442.5" stroke="#666" stroke-width="0.6"/>
<text x="114" y="448.33" font-size="6.2" fill="#5a5a5a" text-anchor="middle" stroke="#5a5a5a" stroke-width="0.12">2020</text>
<line x1="164.5" y1="307.02" x2="164.5" y2="439.5" stroke="#bcbcbc" stroke-width="0.7" stroke-dasharray="1.2 1.55"/>
<line x1="164.5" y1="439.5" x2="164.5" y2="442.5" stroke="#666" stroke-width="0.6"/>
<text x="164.06" y="448.33" font-size="6.2" fill="#5a5a5a" text-anchor="middle" stroke="#5a5a5a" stroke-width="0.12">2021</text>
<line x1="214.5" y1="307.02" x2="214.5" y2="439.5" stroke="#bcbcbc" stroke-width="0.7" stroke-dasharray="1.2 1.55"/>
<line x1="214.5" y1="439.5" x2="214.5" y2="442.5" stroke="#666" stroke-width="0.6"/>
<text x="214.12" y="448.33" font-size="6.2" fill="#5a5a5a" text-anchor="middle" stroke="#5a5a5a" stroke-width="0.12">2022</text>
<line x1="264.5" y1="307.02" x2="264.5" y2="439.5" stroke="#bcbcbc" stroke-width="0.7" stroke-dasharray="1.2 1.55"/>
<line x1="264.5" y1="439.5" x2="264.5" y2="442.5" stroke="#666" stroke-width="0.6"/>
<text x="264.19" y="448.33" font-size="6.2" fill="#5a5a5a" text-anchor="middle" stroke="#5a5a5a" stroke-width="0.12">2023</text>
<line x1="314.5" y1="307.02" x2="314.5" y2="439.5" stroke="#bcbcbc" stroke-width="0.7" stroke-dasharray="1.2 1.55"/>
<line x1="314.5" y1="439.5" x2="314.5" y2="442.5" stroke="#666" stroke-width="0.6"/>
<text x="314.25" y="448.33" font-size="6.2" fill="#5a5a5a" text-anchor="middle" stroke="#5a5a5a" stroke-width="0.12">2024</text>
<line x1="114.5" y1="307.02" x2="114.5" y2="439.5" stroke="#666" stroke-width="0.8"/>
<line x1="114" y1="439.5" x2="314.25" y2="439.5" stroke="#666" stroke-width="0.8"/>
<path d="M114 421.84C130.69 418.16 147.38 414.48 164.06 413C180.75 411.53 197.44 411.9 214.12 410.8C230.81 409.69 247.5 408.22 264.19 406.38C280.88 404.54 297.56 402.15 314.25 399.76L314.25 439.5C297.56 439.5 280.88 439.5 264.19 439.5C247.5 439.5 230.81 439.5 214.12 439.5C197.44 439.5 180.75 439.5 164.06 439.5C147.38 439.5 130.69 439.5 114 439.5Z" fill="#3498db" fill-opacity="0.6"/>
<path d="M114 421.84C130.69 418.16 147.38 414.48 164.06 413C180.75 411.53 197.44 411.9 214.12 410.8C230.81 409.69 247.5 408.22 264.19 406.38C280.88 404.54 297.56 402.15 314.25 399.76" fill="none" stroke="#3498db" stroke-width="0.4"/>
<path d="M114 395.34C130.69 391.11 147.38 386.88 164.06 384.3C180.75 381.72 197.44 380.99 214.12 379.88C230.81 378.78 247.5 379.15 264.19 377.68C280.88 376.2 297.56 370.32 314.25 364.43L314.25 399.76C297.56 402.15 280.88 404.54 264.19 406.38C247.5 408.22 230.81 409.69 214.12 410.8C197.44 411.9 180.75 411.53 164.06 413C147.38 414.48 130.69 418.16 114 421.84Z" fill="#e76f51" fill-opacity="0.5"/>
<path d="M114 395.34C130.69 391.11 147.38 386.88 164.06 384.3C180.75 381.72 197.44 380.99 214.12 379.88C230.81 378.78 247.5 379.15 264.19 377.68C280.88 376.2 297.56 370.32 314.25 364.43" fill="none" stroke="#e76f51" stroke-width="0.4"/>
<path d="M114 373.26C130.69 373.26 147.38 373.26 164.06 373.26C180.75 373.26 197.44 367.74 214.12 364.43C230.81 361.12 247.5 356.33 264.19 353.39C280.88 350.44 297.56 348.6 314.25 346.76L314.25 364.43C297.56 370.32 280.88 376.2 264.19 377.68C247.5 379.15 230.81 378.78 214.12 379.88C197.44 380.99 180.75 381.72 164.06 384.3C147.38 386.88 130.69 391.11 114 395.34Z" fill="#43a047" fill-opacity="0.58"/>
<path d="M114 373.26C130.69 373.26 147.38 373.26 164.06 373.26C180.75 373.26 197.44 367.74 214.12 364.43C230.81 361.12 247.5 356.33 264.19 353.39C280.88 350.44 297.56 348.6 314.25 346.76" fill="none" stroke="#43a047" stroke-width="0.4"/>
<path d="M114 362.22C130.69 362.22 147.38 362.22 164.06 362.22C180.75 362.22 197.44 358.91 214.12 355.6C230.81 352.28 247.5 347.87 264.19 342.35C280.88 336.83 297.56 329.65 314.25 322.48L314.25 346.76C297.56 348.6 280.88 350.44 264.19 353.39C247.5 356.33 230.81 361.12 214.12 364.43C197.44 367.74 180.75 373.26 164.06 373.26C147.38 373.26 130.69 373.26 114 373.26Z" fill="#a855f7" fill-opacity="0.52"/>
<path d="M114 362.22C130.69 362.22 147.38 362.22 164.06 362.22C180.75 362.22 197.44 358.91 214.12 355.6C230.81 352.28 247.5 347.87 264.19 342.35C280.88 336.83 297.56 329.65 314.25 322.48" fill="none" stroke="#a855f7" stroke-width="0.4"/>
<line x1="114" y1="406.38" x2="314.25" y2="406.38" stroke="#000" stroke-width="0.5" stroke-dasharray="1.2 1.55" stroke-opacity="0.07"/>
<line x1="114" y1="373.26" x2="314.25" y2="373.26" stroke="#000" stroke-width="0.5" stroke-dasharray="1.2 1.55" stroke-opacity="0.07"/>
<line x1="114" y1="340.14" x2="314.25" y2="340.14" stroke="#000" stroke-width="0.5" stroke-dasharray="1.2 1.55" stroke-opacity="0.07"/>
<line x1="164.06" y1="307.02" x2="164.06" y2="439.5" stroke="#000" stroke-width="0.5" stroke-dasharray="1.2 1.55" stroke-opacity="0.07"/>
<line x1="214.12" y1="307.02" x2="214.12" y2="439.5" stroke="#000" stroke-width="0.5" stroke-dasharray="1.2 1.55" stroke-opacity="0.07"/>
<line x1="264.19" y1="307.02" x2="264.19" y2="439.5" stroke="#000" stroke-width="0.5" stroke-dasharray="1.2 1.55" stroke-opacity="0.07"/>
<line x1="314.25" y1="307.02" x2="314.25" y2="439.5" stroke="#000" stroke-width="0.5" stroke-dasharray="1.2 1.55" stroke-opacity="0.07"/>
<line x1="159.5" y1="456.3" x2="164.5" y2="456.3" stroke="#3498db" stroke-width="0.7"/>
<text x="166.4" y="458.71" font-size="6.7" fill="#3498db" stroke="#3498db" stroke-width="0.13">1期</text>
<line x1="180.8" y1="456.3" x2="185.8" y2="456.3" stroke="#e76f51" stroke-width="0.7"/>
<text x="187.7" y="458.71" font-size="6.7" fill="#e76f51" stroke="#e76f51" stroke-width="0.13">2期</text>
<line x1="202.5" y1="456.3" x2="207.5" y2="456.3" stroke="#43a047" stroke-width="0.7"/>
<text x="209.4" y="458.71" font-size="6.7" fill="#43a047" stroke="#43a047" stroke-width="0.13">3期</text>
<line x1="224.3" y1="456.3" x2="229.3" y2="456.3" stroke="#a855f7" stroke-width="0.7"/>
<text x="231.2" y="458.71" font-size="6.7" fill="#a855f7" stroke="#a855f7" stroke-width="0.13">4期</text>
<text x="199.8" y="496.2" font-size="14.2" fill="#111" stroke="#111" stroke-width="0.2" text-anchor="middle"><tspan font-size="13.9" stroke-width="0.42">積み上げ面グラフ</tspan></text>
<text x="199.8" y="513.4" font-size="14.2" fill="#111" stroke="#111" stroke-width="0.2" text-anchor="middle"><tspan letter-spacing="0.36" stroke-width="0.3">Stacked Area Chart</tspan></text>
<line x1="351.5" y1="301.5" x2="568.25" y2="301.5" stroke="#bcbcbc" stroke-width="0.7" stroke-dasharray="1.2 1.55"/>
<line x1="351.5" y1="449.25" x2="351.5" y2="452.25" stroke="#666" stroke-width="0.6"/>
<text x="351.5" y="457.87" font-size="5.6" fill="#5a5a5a" text-anchor="middle" stroke="#5a5a5a" stroke-width="0.11">0%</text>
<line x1="405.5" y1="301" x2="405.5" y2="449.25" stroke="#bcbcbc" stroke-width="0.7" stroke-dasharray="1.2 1.55"/>
<line x1="405.5" y1="449.25" x2="405.5" y2="452.25" stroke="#666" stroke-width="0.6"/>
<text x="405.69" y="457.87" font-size="5.6" fill="#5a5a5a" text-anchor="middle" stroke="#5a5a5a" stroke-width="0.11">25%</text>
<line x1="459.5" y1="301" x2="459.5" y2="449.25" stroke="#bcbcbc" stroke-width="0.7" stroke-dasharray="1.2 1.55"/>
<line x1="459.5" y1="449.25" x2="459.5" y2="452.25" stroke="#666" stroke-width="0.6"/>
<text x="459.88" y="457.87" font-size="5.6" fill="#5a5a5a" text-anchor="middle" stroke="#5a5a5a" stroke-width="0.11">50%</text>
<line x1="514.5" y1="301" x2="514.5" y2="449.25" stroke="#bcbcbc" stroke-width="0.7" stroke-dasharray="1.2 1.55"/>
<line x1="514.5" y1="449.25" x2="514.5" y2="452.25" stroke="#666" stroke-width="0.6"/>
<text x="514.06" y="457.87" font-size="5.6" fill="#5a5a5a" text-anchor="middle" stroke="#5a5a5a" stroke-width="0.11">75%</text>
<line x1="568.5" y1="301" x2="568.5" y2="449.25" stroke="#bcbcbc" stroke-width="0.7" stroke-dasharray="1.2 1.55"/>
<line x1="568.5" y1="449.25" x2="568.5" y2="452.25" stroke="#666" stroke-width="0.6"/>
<text x="568.25" y="457.87" font-size="5.6" fill="#5a5a5a" text-anchor="middle" stroke="#5a5a5a" stroke-width="0.11">100%</text>
<line x1="348.5" y1="325.5" x2="351.5" y2="325.5" stroke="#666" stroke-width="0.6"/>
<text x="347" y="327.84" font-size="5.8" fill="#5a5a5a" text-anchor="end" stroke="#5a5a5a" stroke-width="0.12">2000</text>
<rect x="351.5" y="311.25" width="84.82" height="29" fill="#2a9d8f"/>
<text x="393.91" y="327.6" font-size="5.7" fill="#fff" text-anchor="middle" font-weight="bold">39%</text>
<rect x="436.32" y="311.25" width="37.7" height="29" fill="#e76f51"/>
<text x="455.16" y="327.6" font-size="5.7" fill="#fff" text-anchor="middle" font-weight="bold">17%</text>
<rect x="474.01" y="311.25" width="65.97" height="29" fill="#264653"/>
<text x="506.99" y="327.6" font-size="5.7" fill="#fff" text-anchor="middle" font-weight="bold">30%</text>
<rect x="539.98" y="311.25" width="28.27" height="29" fill="#e9c46a"/>
<text x="554.11" y="327.6" font-size="5.7" fill="#fff" text-anchor="middle" font-weight="bold">13%</text>
<line x1="348.5" y1="375.5" x2="351.5" y2="375.5" stroke="#666" stroke-width="0.6"/>
<text x="347" y="377.49" font-size="5.8" fill="#5a5a5a" text-anchor="end" stroke="#5a5a5a" stroke-width="0.12">2020</text>
<rect x="351.5" y="360.9" width="41.51" height="29" fill="#2a9d8f"/>
<text x="372.25" y="377.25" font-size="5.7" fill="#fff" text-anchor="middle" font-weight="bold">19%</text>
<rect x="393.01" y="360.9" width="49.96" height="29" fill="#e76f51"/>
<text x="417.99" y="377.25" font-size="5.7" fill="#fff" text-anchor="middle" font-weight="bold">23%</text>
<rect x="442.97" y="360.9" width="75.86" height="29" fill="#264653"/>
<text x="480.9" y="377.25" font-size="5.7" fill="#fff" text-anchor="middle" font-weight="bold">35%</text>
<rect x="518.83" y="360.9" width="49.42" height="29" fill="#e9c46a"/>
<text x="543.54" y="377.25" font-size="5.7" fill="#fff" text-anchor="middle" font-weight="bold">23%</text>
<line x1="348.5" y1="425.5" x2="351.5" y2="425.5" stroke="#666" stroke-width="0.6"/>
<text x="347" y="427.09" font-size="5.8" fill="#5a5a5a" text-anchor="end" stroke="#5a5a5a" stroke-width="0.12">2040</text>
<rect x="351.5" y="410.5" width="50.02" height="29" fill="#2a9d8f"/>
<text x="376.51" y="426.85" font-size="5.7" fill="#fff" text-anchor="middle" font-weight="bold">23%</text>
<rect x="401.52" y="410.5" width="50.02" height="29" fill="#e76f51"/>
<text x="426.53" y="426.85" font-size="5.7" fill="#fff" text-anchor="middle" font-weight="bold">23%</text>
<rect x="451.54" y="410.5" width="33.35" height="29" fill="#264653"/>
<text x="468.21" y="426.85" font-size="5.7" fill="#fff" text-anchor="middle" font-weight="bold">15%</text>
<rect x="484.88" y="410.5" width="83.37" height="29" fill="#e9c46a"/>
<text x="526.57" y="426.85" font-size="5.7" fill="#fff" text-anchor="middle" font-weight="bold">38%</text>
<line x1="351.5" y1="301" x2="351.5" y2="449.25" stroke="#666" stroke-width="0.8"/>
<line x1="351.5" y1="449.5" x2="568.25" y2="449.5" stroke="#666" stroke-width="0.8"/>
<rect x="372" y="468.6" width="7" height="5.6" fill="#2a9d8f"/>
<text x="381.2" y="474.28" font-size="8" fill="#2a9d8f" stroke="#2a9d8f" stroke-width="0.16">アジア</text>
<rect x="410.5" y="468.6" width="7" height="5.6" fill="#e76f51"/>
<text x="419.5" y="474.28" font-size="8" fill="#e76f51" stroke="#e76f51" stroke-width="0.16">欧米</text>
<rect x="441" y="468.6" width="7" height="5.6" fill="#264653"/>
<text x="450.2" y="474.28" font-size="8" fill="#264653" stroke="#264653" stroke-width="0.16">中東</text>
<rect x="471.3" y="468.6" width="7" height="5.6" fill="#e9c46a"/>
<text x="480.2" y="474.28" font-size="8" fill="#e9c46a" stroke="#e9c46a" stroke-width="0.16">アフリカ</text>
<text x="451" y="496.2" font-size="14.2" fill="#111" stroke="#111" stroke-width="0.2" text-anchor="middle"><tspan font-size="13.9" stroke-width="0.42">帯グラフ（</tspan><tspan letter-spacing="0.36" stroke-width="0.3">100%</tspan><tspan font-size="13.9" stroke-width="0.42">積み上げ棒グラフ）</tspan></text>
<text x="450" y="513.4" font-size="14.2" fill="#111" stroke="#111" stroke-width="0.2" text-anchor="middle"><tspan letter-spacing="0.36" stroke-width="0.3">100% Stacked Bar Chart</tspan></text>
<line x1="594" y1="450.5" x2="597" y2="450.5" stroke="#666" stroke-width="0.6"/>
<text x="593" y="452.16" font-size="6" fill="#5a5a5a" text-anchor="end" stroke="#5a5a5a" stroke-width="0.12">0%</text>
<line x1="597" y1="412.5" x2="825.75" y2="412.5" stroke="#bcbcbc" stroke-width="0.7" stroke-dasharray="1.2 1.55"/>
<line x1="594" y1="412.5" x2="597" y2="412.5" stroke="#666" stroke-width="0.6"/>
<text x="593" y="414.47" font-size="6" fill="#5a5a5a" text-anchor="end" stroke="#5a5a5a" stroke-width="0.12">25%</text>
<line x1="597" y1="374.5" x2="825.75" y2="374.5" stroke="#bcbcbc" stroke-width="0.7" stroke-dasharray="1.2 1.55"/>
<line x1="594" y1="374.5" x2="597" y2="374.5" stroke="#666" stroke-width="0.6"/>
<text x="593" y="376.79" font-size="6" fill="#5a5a5a" text-anchor="end" stroke="#5a5a5a" stroke-width="0.12">50%</text>
<line x1="597" y1="336.5" x2="825.75" y2="336.5" stroke="#bcbcbc" stroke-width="0.7" stroke-dasharray="1.2 1.55"/>
<line x1="594" y1="336.5" x2="597" y2="336.5" stroke="#666" stroke-width="0.6"/>
<text x="593" y="339.1" font-size="6" fill="#5a5a5a" text-anchor="end" stroke="#5a5a5a" stroke-width="0.12">75%</text>
<line x1="597" y1="299.5" x2="825.75" y2="299.5" stroke="#bcbcbc" stroke-width="0.7" stroke-dasharray="1.2 1.55"/>
<line x1="594" y1="299.5" x2="597" y2="299.5" stroke="#666" stroke-width="0.6"/>
<text x="593" y="301.41" font-size="6" fill="#5a5a5a" text-anchor="end" stroke="#5a5a5a" stroke-width="0.12">100%</text>
<line x1="597.5" y1="450" x2="597.5" y2="453" stroke="#666" stroke-width="0.6"/>
<text x="597" y="458.76" font-size="6" fill="#5a5a5a" text-anchor="middle" stroke="#5a5a5a" stroke-width="0.12">2000</text>
<line x1="654.5" y1="299.25" x2="654.5" y2="450" stroke="#bcbcbc" stroke-width="0.7" stroke-dasharray="1.2 1.55"/>
<line x1="654.5" y1="450" x2="654.5" y2="453" stroke="#666" stroke-width="0.6"/>
<text x="654.19" y="458.76" font-size="6" fill="#5a5a5a" text-anchor="middle" stroke="#5a5a5a" stroke-width="0.12">2020</text>
<line x1="711.5" y1="299.25" x2="711.5" y2="450" stroke="#bcbcbc" stroke-width="0.7" stroke-dasharray="1.2 1.55"/>
<line x1="711.5" y1="450" x2="711.5" y2="453" stroke="#666" stroke-width="0.6"/>
<text x="711.38" y="458.76" font-size="6" fill="#5a5a5a" text-anchor="middle" stroke="#5a5a5a" stroke-width="0.12">2040</text>
<line x1="768.5" y1="299.25" x2="768.5" y2="450" stroke="#bcbcbc" stroke-width="0.7" stroke-dasharray="1.2 1.55"/>
<line x1="768.5" y1="450" x2="768.5" y2="453" stroke="#666" stroke-width="0.6"/>
<text x="768.56" y="458.76" font-size="6" fill="#5a5a5a" text-anchor="middle" stroke="#5a5a5a" stroke-width="0.12">2060</text>
<line x1="825.5" y1="299.25" x2="825.5" y2="450" stroke="#bcbcbc" stroke-width="0.7" stroke-dasharray="1.2 1.55"/>
<line x1="825.5" y1="450" x2="825.5" y2="453" stroke="#666" stroke-width="0.6"/>
<text x="825.75" y="458.76" font-size="6" fill="#5a5a5a" text-anchor="middle" stroke="#5a5a5a" stroke-width="0.12">2080</text>
<line x1="597.5" y1="299.25" x2="597.5" y2="450" stroke="#666" stroke-width="0.8"/>
<line x1="597" y1="450.5" x2="825.75" y2="450.5" stroke="#666" stroke-width="0.8"/>
<path d="M597 391.21C616.06 406.28 635.12 421.36 654.19 421.36C673.25 421.36 692.31 419.4 711.38 415.48C730.44 411.56 749.5 382.46 768.56 382.46C787.62 382.46 806.69 391.21 825.75 399.95L825.75 450C806.69 450 787.62 450 768.56 450C749.5 450 730.44 450 711.38 450C692.31 450 673.25 450 654.19 450C635.12 450 616.06 450 597 450Z" fill="#2a9d8f" fill-opacity="0.6"/>
<path d="M597 364.52C616.06 375.38 635.12 386.23 654.19 386.23C673.25 386.23 692.31 384.32 711.38 380.5C730.44 376.69 749.5 360.45 768.56 360.45C787.62 360.45 806.69 369.57 825.75 378.7L825.75 399.95C806.69 391.21 787.62 382.46 768.56 382.46C749.5 382.46 730.44 411.56 711.38 415.48C692.31 419.4 673.25 421.36 654.19 421.36C635.12 421.36 616.06 406.28 597 391.21Z" fill="#e76f51" fill-opacity="0.6"/>
<path d="M597 319C616.06 323.56 635.12 328.12 654.19 334.53C673.25 340.93 692.31 357.44 711.38 357.44C730.44 357.44 749.5 335.73 768.56 335.73C787.62 335.73 806.69 341.61 825.75 347.49L825.75 378.7C806.69 369.57 787.62 360.45 768.56 360.45C749.5 360.45 730.44 376.69 711.38 380.5C692.31 384.32 673.25 386.23 654.19 386.23C635.12 386.23 616.06 375.38 597 364.52Z" fill="#264653" fill-opacity="0.6"/>
<path d="M597 299.25C616.06 299.25 635.12 299.25 654.19 299.25C673.25 299.25 692.31 299.25 711.38 299.25C730.44 299.25 749.5 299.25 768.56 299.25C787.62 299.25 806.69 299.25 825.75 299.25L825.75 347.49C806.69 341.61 787.62 335.73 768.56 335.73C749.5 335.73 730.44 357.44 711.38 357.44C692.31 357.44 673.25 340.93 654.19 334.53C635.12 328.12 616.06 323.56 597 319Z" fill="#e9c46a" fill-opacity="0.6"/>
<path d="M597 391.21C616.06 406.28 635.12 421.36 654.19 421.36C673.25 421.36 692.31 419.4 711.38 415.48C730.44 411.56 749.5 382.46 768.56 382.46C787.62 382.46 806.69 391.21 825.75 399.95" fill="none" stroke="#2a9d8f" stroke-width="0.4" stroke-opacity="0.8"/>
<path d="M597 364.52C616.06 375.38 635.12 386.23 654.19 386.23C673.25 386.23 692.31 384.32 711.38 380.5C730.44 376.69 749.5 360.45 768.56 360.45C787.62 360.45 806.69 369.57 825.75 378.7" fill="none" stroke="#e76f51" stroke-width="0.4" stroke-opacity="0.8"/>
<path d="M597 319C616.06 323.56 635.12 328.12 654.19 334.53C673.25 340.93 692.31 357.44 711.38 357.44C730.44 357.44 749.5 335.73 768.56 335.73C787.62 335.73 806.69 341.61 825.75 347.49" fill="none" stroke="#264653" stroke-width="0.4" stroke-opacity="0.8"/>
<path d="M597 299.25C616.06 299.25 635.12 299.25 654.19 299.25C673.25 299.25 692.31 299.25 711.38 299.25C730.44 299.25 749.5 299.25 768.56 299.25C787.62 299.25 806.69 299.25 825.75 299.25" fill="none" stroke="#e9c46a" stroke-width="0.4" stroke-opacity="0.8"/>
<line x1="597" y1="412.31" x2="825.75" y2="412.31" stroke="#000" stroke-width="0.5" stroke-dasharray="1.2 1.55" stroke-opacity="0.08"/>
<line x1="597" y1="374.62" x2="825.75" y2="374.62" stroke="#000" stroke-width="0.5" stroke-dasharray="1.2 1.55" stroke-opacity="0.08"/>
<line x1="597" y1="336.94" x2="825.75" y2="336.94" stroke="#000" stroke-width="0.5" stroke-dasharray="1.2 1.55" stroke-opacity="0.08"/>
<line x1="654.19" y1="299.25" x2="654.19" y2="450" stroke="#000" stroke-width="0.5" stroke-dasharray="1.2 1.55" stroke-opacity="0.08"/>
<line x1="711.38" y1="299.25" x2="711.38" y2="450" stroke="#000" stroke-width="0.5" stroke-dasharray="1.2 1.55" stroke-opacity="0.08"/>
<line x1="768.56" y1="299.25" x2="768.56" y2="450" stroke="#000" stroke-width="0.5" stroke-dasharray="1.2 1.55" stroke-opacity="0.08"/>
<line x1="825.75" y1="299.25" x2="825.75" y2="450" stroke="#000" stroke-width="0.5" stroke-dasharray="1.2 1.55" stroke-opacity="0.08"/>
<circle cx="597" cy="391.21" r="1.2" fill="#2a9d8f" fill-opacity="0.85"/>
<circle cx="654.19" cy="421.36" r="1.2" fill="#2a9d8f" fill-opacity="0.85"/>
<circle cx="711.38" cy="415.48" r="1.2" fill="#2a9d8f" fill-opacity="0.85"/>
<circle cx="768.56" cy="382.46" r="1.2" fill="#2a9d8f" fill-opacity="0.85"/>
<circle cx="825.75" cy="399.95" r="1.2" fill="#2a9d8f" fill-opacity="0.85"/>
<circle cx="597" cy="364.52" r="1.2" fill="#e76f51" fill-opacity="0.85"/>
<circle cx="654.19" cy="386.23" r="1.2" fill="#e76f51" fill-opacity="0.85"/>
<circle cx="711.38" cy="380.5" r="1.2" fill="#e76f51" fill-opacity="0.85"/>
<circle cx="768.56" cy="360.45" r="1.2" fill="#e76f51" fill-opacity="0.85"/>
<circle cx="825.75" cy="378.7" r="1.2" fill="#e76f51" fill-opacity="0.85"/>
<circle cx="597" cy="319" r="1.2" fill="#264653" fill-opacity="0.85"/>
<circle cx="654.19" cy="334.53" r="1.2" fill="#264653" fill-opacity="0.85"/>
<circle cx="711.38" cy="357.44" r="1.2" fill="#264653" fill-opacity="0.85"/>
<circle cx="768.56" cy="335.73" r="1.2" fill="#264653" fill-opacity="0.85"/>
<circle cx="825.75" cy="347.49" r="1.2" fill="#264653" fill-opacity="0.85"/>
<circle cx="597" cy="299.25" r="1.2" fill="#e9c46a" fill-opacity="0.85"/>
<circle cx="654.19" cy="299.25" r="1.2" fill="#e9c46a" fill-opacity="0.85"/>
<circle cx="711.38" cy="299.25" r="1.2" fill="#e9c46a" fill-opacity="0.85"/>
<circle cx="768.56" cy="299.25" r="1.2" fill="#e9c46a" fill-opacity="0.85"/>
<circle cx="825.75" cy="299.25" r="1.2" fill="#e9c46a" fill-opacity="0.85"/>
<circle cx="624.5" cy="472.5" r="3.5" fill="#2a9d8f"/>
<text x="630.8" y="475.38" font-size="8" fill="#2a9d8f" stroke="#2a9d8f" stroke-width="0.16">アジア</text>
<circle cx="664.3" cy="472.5" r="3.5" fill="#e76f51"/>
<text x="670" y="475.38" font-size="8" fill="#e76f51" stroke="#e76f51" stroke-width="0.16">欧米</text>
<circle cx="695.5" cy="472.5" r="3.5" fill="#264653"/>
<text x="701.8" y="475.38" font-size="8" fill="#264653" stroke="#264653" stroke-width="0.16">中東</text>
<circle cx="726.8" cy="472.5" r="3.5" fill="#e9c46a"/>
<text x="732.5" y="475.38" font-size="8" fill="#e9c46a" stroke="#e9c46a" stroke-width="0.16">アフリカ</text>
<text x="718" y="496.2" font-size="14.2" fill="#111" stroke="#111" stroke-width="0.2" text-anchor="middle"><tspan font-size="13.9" stroke-width="0.42">帯グラフ（</tspan><tspan letter-spacing="0.36" stroke-width="0.3">100%</tspan><tspan font-size="13.9" stroke-width="0.42">積み上げ面グラフ）</tspan></text>
<text x="717.7" y="513.4" font-size="14.2" fill="#111" stroke="#111" stroke-width="0.2" text-anchor="middle"><tspan letter-spacing="0.36" stroke-width="0.3">100% Stacked Area Chart</tspan></text>
<path d="M1038.25 372.75A68.75 68.75 0 0 0 946.32 308.02L957.5 339.23A35.6 35.6 0 0 1 1005.1 372.75Z" fill="#2a9d8f" stroke="#fff" stroke-width="0.8"/>
<text x="999.83" y="329.31" font-size="7.3" fill="#fff" text-anchor="middle" stroke="#fff" stroke-width="0.15">Chrome</text>
<text x="999.83" y="337.51" font-size="7.3" fill="#fff" text-anchor="middle" stroke="#fff" stroke-width="0.15">31%</text>
<path d="M946.32 308.02A68.75 68.75 0 0 0 901.51 382.91L934.29 378.01A35.6 35.6 0 0 1 957.5 339.23Z" fill="#e76f51" stroke="#fff" stroke-width="0.8"/>
<text x="924.3" y="345.33" font-size="7.3" fill="#fff" text-anchor="middle" stroke="#fff" stroke-width="0.15">Safari</text>
<text x="924.3" y="353.53" font-size="7.3" fill="#fff" text-anchor="middle" stroke="#fff" stroke-width="0.15">22%</text>
<path d="M901.51 382.91A68.75 68.75 0 0 0 948.03 438.06L958.38 406.57A35.6 35.6 0 0 1 934.29 378.01Z" fill="#264653" stroke="#fff" stroke-width="0.8"/>
<text x="929.24" y="406.34" font-size="7.3" fill="#fff" text-anchor="middle" stroke="#fff" stroke-width="0.15">Firefox</text>
<text x="929.24" y="414.54" font-size="7.3" fill="#fff" text-anchor="middle" stroke="#fff" stroke-width="0.15">17%</text>
<path d="M948.03 438.06A68.75 68.75 0 0 0 1020.67 418.66L996 396.52A35.6 35.6 0 0 1 958.38 406.57Z" fill="#e9c46a" stroke="#fff" stroke-width="0.8"/>
<text x="983.09" y="423.27" font-size="7.3" fill="#fff" text-anchor="middle" stroke="#fff" stroke-width="0.15">Edge</text>
<text x="983.09" y="431.47" font-size="7.3" fill="#fff" text-anchor="middle" stroke="#fff" stroke-width="0.15">18%</text>
<path d="M1020.67 418.66A68.75 68.75 0 0 0 1038.25 372.75L1005.1 372.75A35.6 35.6 0 0 1 996 396.52Z" fill="#f4a261" stroke="#fff" stroke-width="0.8"/>
<text x="1018.69" y="391.21" font-size="7.3" fill="#fff" text-anchor="middle" stroke="#fff" stroke-width="0.15">Other</text>
<text x="1018.69" y="399.41" font-size="7.3" fill="#fff" text-anchor="middle" stroke="#fff" stroke-width="0.15">12%</text>
<text x="969.5" y="376.2" font-size="13.2" fill="#111" text-anchor="middle" font-weight="bold" stroke="#111" stroke-width="0.46">1,030</text>
<text x="969.5" y="386.05" font-size="6.8" fill="#777" text-anchor="middle" stroke="#777" stroke-width="0.14">Viewers</text>
<circle cx="886.8" cy="465" r="3.2" fill="#2a9d8f"/>
<text x="892" y="467.66" font-size="7.4" fill="#2a9d8f" stroke="#2a9d8f" stroke-width="0.15">Chrome</text>
<circle cx="927" cy="465" r="3.2" fill="#e76f51"/>
<text x="932" y="467.66" font-size="7.4" fill="#e76f51" stroke="#e76f51" stroke-width="0.15">Safari</text>
<circle cx="959.5" cy="465" r="3.2" fill="#264653"/>
<text x="965" y="467.66" font-size="7.4" fill="#264653" stroke="#264653" stroke-width="0.15">Firefox</text>
<circle cx="995.8" cy="465" r="3.2" fill="#e9c46a"/>
<text x="1001.2" y="467.66" font-size="7.4" fill="#e9c46a" stroke="#e9c46a" stroke-width="0.15">Edge</text>
<circle cx="1027.5" cy="465" r="3.2" fill="#f4a261"/>
<text x="1032" y="467.66" font-size="7.4" fill="#f4a261" stroke="#f4a261" stroke-width="0.15">Other</text>
<text x="971" y="496.2" font-size="14.2" fill="#111" stroke="#111" stroke-width="0.2" text-anchor="middle"><tspan font-size="13.9" stroke-width="0.42">ドーナツグラフ</tspan><tspan letter-spacing="0.36" stroke-width="0.3"> / Donut Chart</tspan></text>
<path d="M209.5 613.3L266.5 613.3A57 57 0 0 0 192.81 558.8Z" fill="#2a9d8f" stroke="#fff" stroke-width="0.7"/>
<path d="M209.5 613.3L192.81 558.8A57 57 0 0 0 152.71 618.13Z" fill="#e76f51" stroke="#fff" stroke-width="0.7"/>
<path d="M209.5 613.3L152.71 618.13A57 57 0 0 0 197.3 668.98Z" fill="#264653" stroke="#fff" stroke-width="0.7"/>
<path d="M209.5 613.3L197.3 668.98A57 57 0 0 0 256.18 646.02Z" fill="#e9c46a" stroke="#fff" stroke-width="0.7"/>
<path d="M209.5 613.3L256.18 646.02A57 57 0 0 0 266.5 613.3Z" fill="#f4a261" stroke="#fff" stroke-width="0.7"/>
<text x="226.3" y="593.19" font-size="7.2" fill="#fff" text-anchor="middle" stroke="#fff" stroke-width="0.14">Chrome</text>
<text x="186" y="600.09" font-size="7.2" fill="#fff" text-anchor="middle" stroke="#fff" stroke-width="0.14">Safari</text>
<text x="188" y="634.89" font-size="7.2" fill="#fff" text-anchor="middle" stroke="#fff" stroke-width="0.14">Firefox</text>
<text x="219.5" y="642.89" font-size="7.2" fill="#fff" text-anchor="middle" stroke="#fff" stroke-width="0.14">Edge</text>
<text x="236.5" y="624.89" font-size="7.2" fill="#fff" text-anchor="middle" stroke="#fff" stroke-width="0.14">Other</text>
<path d="M245.75 563.25L250.75 556.75L260.5 556.25" fill="none" stroke="#2a9d8f" stroke-width="0.5"/>
<circle cx="261.1" cy="556.25" r="0.8" fill="#2a9d8f"/>
<text x="266" y="557.04" font-size="7.05" fill="#333" stroke="#333" stroke-width="0.14">Chrome 275</text>
<text x="266" y="565.14" font-size="7.05" fill="#999" stroke="#999" stroke-width="0.14">(29.73%)</text>
<path d="M158.25 578L151.75 573.75L142 573.75" fill="none" stroke="#e76f51" stroke-width="0.5"/>
<circle cx="141.4" cy="573.75" r="0.8" fill="#e76f51"/>
<text x="136.4" y="573.84" font-size="7.05" fill="#333" text-anchor="end" stroke="#333" stroke-width="0.14">Safari 200</text>
<text x="135.9" y="581.94" font-size="7.05" fill="#999" text-anchor="end" stroke="#999" stroke-width="0.14">(21.62%)</text>
<path d="M163 654.25L157 659.5L147.5 659.5" fill="none" stroke="#264653" stroke-width="0.5"/>
<circle cx="146.9" cy="659.5" r="0.8" fill="#264653"/>
<text x="141.3" y="659.54" font-size="7.05" fill="#333" text-anchor="end" stroke="#333" stroke-width="0.14">Firefox 187</text>
<text x="140.8" y="667.64" font-size="7.05" fill="#999" text-anchor="end" stroke="#999" stroke-width="0.14">(20.22%)</text>
<path d="M231.25 671.25L235 678.75L244.5 678.75" fill="none" stroke="#e9c46a" stroke-width="0.5"/>
<circle cx="245.1" cy="678.75" r="0.8" fill="#e9c46a"/>
<text x="250" y="678.84" font-size="7.05" fill="#333" stroke="#333" stroke-width="0.14">Edge 173</text>
<text x="250" y="686.94" font-size="7.05" fill="#999" stroke="#999" stroke-width="0.14">(18.70%)</text>
<path d="M268.25 632L276.25 634.5L285.5 634.5" fill="none" stroke="#f4a261" stroke-width="0.5"/>
<circle cx="286.1" cy="634.5" r="0.8" fill="#f4a261"/>
<text x="291.3" y="634.54" font-size="7.05" fill="#333" stroke="#333" stroke-width="0.14">Other 90</text>
<text x="291.3" y="642.64" font-size="7.05" fill="#999" stroke="#999" stroke-width="0.14">(9.73%)</text>
<circle cx="132" cy="699.1" r="3.1" fill="#2a9d8f"/>
<text x="137.3" y="701.38" font-size="6.9" fill="#2a9d8f" stroke="#2a9d8f" stroke-width="0.14">Chrome</text>
<circle cx="169.5" cy="699.1" r="3.1" fill="#e76f51"/>
<text x="174.3" y="701.38" font-size="6.9" fill="#e76f51" stroke="#e76f51" stroke-width="0.14">Safari</text>
<circle cx="200.5" cy="699.1" r="3.1" fill="#264653"/>
<text x="205.3" y="701.38" font-size="6.9" fill="#264653" stroke="#264653" stroke-width="0.14">Firefox</text>
<circle cx="234.3" cy="699.1" r="3.1" fill="#e9c46a"/>
<text x="239" y="701.38" font-size="6.9" fill="#e9c46a" stroke="#e9c46a" stroke-width="0.14">Edge</text>
<circle cx="263.8" cy="699.1" r="3.1" fill="#f4a261"/>
<text x="268" y="701.38" font-size="6.9" fill="#f4a261" stroke="#f4a261" stroke-width="0.14">Other</text>
<text x="199.5" y="725" font-size="14.2" fill="#111" stroke="#111" stroke-width="0.2" text-anchor="middle"><tspan font-size="13.9" stroke-width="0.42">円グラフ</tspan></text>
<text x="199.5" y="742.2" font-size="14.2" fill="#111" stroke="#111" stroke-width="0.2" text-anchor="middle"><tspan letter-spacing="0.36" stroke-width="0.3">Pie Chart</tspan></text>
<line x1="374.5" y1="546.5" x2="569.5" y2="546.5" stroke="#bcbcbc" stroke-width="0.7" stroke-dasharray="1.2 1.55"/>
<line x1="374.5" y1="679.5" x2="374.5" y2="682.5" stroke="#666" stroke-width="0.6"/>
<text x="374.5" y="688.57" font-size="5.2" fill="#5a5a5a" text-anchor="middle" stroke="#5a5a5a" stroke-width="0.1">60</text>
<line x1="423.5" y1="546.25" x2="423.5" y2="679.5" stroke="#bcbcbc" stroke-width="0.7" stroke-dasharray="1.2 1.55"/>
<line x1="423.5" y1="679.5" x2="423.5" y2="682.5" stroke="#666" stroke-width="0.6"/>
<text x="423.25" y="688.57" font-size="5.2" fill="#5a5a5a" text-anchor="middle" stroke="#5a5a5a" stroke-width="0.1">30</text>
<line x1="472.5" y1="546.25" x2="472.5" y2="679.5" stroke="#bcbcbc" stroke-width="0.7" stroke-dasharray="1.2 1.55"/>
<line x1="472.5" y1="679.5" x2="472.5" y2="682.5" stroke="#666" stroke-width="0.6"/>
<text x="472" y="688.57" font-size="5.2" fill="#5a5a5a" text-anchor="middle" stroke="#5a5a5a" stroke-width="0.1">0</text>
<line x1="520.5" y1="546.25" x2="520.5" y2="679.5" stroke="#bcbcbc" stroke-width="0.7" stroke-dasharray="1.2 1.55"/>
<line x1="520.5" y1="679.5" x2="520.5" y2="682.5" stroke="#666" stroke-width="0.6"/>
<text x="520.75" y="688.57" font-size="5.2" fill="#5a5a5a" text-anchor="middle" stroke="#5a5a5a" stroke-width="0.1">30</text>
<line x1="569.5" y1="546.25" x2="569.5" y2="679.5" stroke="#bcbcbc" stroke-width="0.7" stroke-dasharray="1.2 1.55"/>
<line x1="569.5" y1="679.5" x2="569.5" y2="682.5" stroke="#666" stroke-width="0.6"/>
<text x="569.5" y="688.57" font-size="5.2" fill="#5a5a5a" text-anchor="middle" stroke="#5a5a5a" stroke-width="0.1">60</text>
<line x1="374.5" y1="552.5" x2="569.5" y2="552.5" stroke="#bcbcbc" stroke-width="0.7" stroke-dasharray="1.2 1.55"/>
<line x1="371.5" y1="552.5" x2="374.5" y2="552.5" stroke="#666" stroke-width="0.6"/>
<text x="370.2" y="554.21" font-size="5.3" fill="#555" text-anchor="end" stroke="#555" stroke-width="0.11">100歳以上</text>
<line x1="374.5" y1="564.5" x2="569.5" y2="564.5" stroke="#bcbcbc" stroke-width="0.7" stroke-dasharray="1.2 1.55"/>
<line x1="371.5" y1="564.5" x2="374.5" y2="564.5" stroke="#666" stroke-width="0.6"/>
<text x="370.2" y="566.33" font-size="5.3" fill="#555" text-anchor="end" stroke="#555" stroke-width="0.11">90-100歳</text>
<line x1="374.5" y1="576.5" x2="569.5" y2="576.5" stroke="#bcbcbc" stroke-width="0.7" stroke-dasharray="1.2 1.55"/>
<line x1="371.5" y1="576.5" x2="374.5" y2="576.5" stroke="#666" stroke-width="0.6"/>
<text x="370.2" y="578.44" font-size="5.3" fill="#555" text-anchor="end" stroke="#555" stroke-width="0.11">80-90歳</text>
<line x1="374.5" y1="588.5" x2="569.5" y2="588.5" stroke="#bcbcbc" stroke-width="0.7" stroke-dasharray="1.2 1.55"/>
<line x1="371.5" y1="588.5" x2="374.5" y2="588.5" stroke="#666" stroke-width="0.6"/>
<text x="370.2" y="590.56" font-size="5.3" fill="#555" text-anchor="end" stroke="#555" stroke-width="0.11">70-80歳</text>
<line x1="374.5" y1="600.5" x2="569.5" y2="600.5" stroke="#bcbcbc" stroke-width="0.7" stroke-dasharray="1.2 1.55"/>
<line x1="371.5" y1="600.5" x2="374.5" y2="600.5" stroke="#666" stroke-width="0.6"/>
<text x="370.2" y="602.67" font-size="5.3" fill="#555" text-anchor="end" stroke="#555" stroke-width="0.11">60-70歳</text>
<line x1="374.5" y1="612.5" x2="569.5" y2="612.5" stroke="#bcbcbc" stroke-width="0.7" stroke-dasharray="1.2 1.55"/>
<line x1="371.5" y1="612.5" x2="374.5" y2="612.5" stroke="#666" stroke-width="0.6"/>
<text x="370.2" y="614.78" font-size="5.3" fill="#555" text-anchor="end" stroke="#555" stroke-width="0.11">50-60歳</text>
<line x1="374.5" y1="624.5" x2="569.5" y2="624.5" stroke="#bcbcbc" stroke-width="0.7" stroke-dasharray="1.2 1.55"/>
<line x1="371.5" y1="624.5" x2="374.5" y2="624.5" stroke="#666" stroke-width="0.6"/>
<text x="370.2" y="626.9" font-size="5.3" fill="#555" text-anchor="end" stroke="#555" stroke-width="0.11">40-50歳</text>
<line x1="374.5" y1="637.5" x2="569.5" y2="637.5" stroke="#bcbcbc" stroke-width="0.7" stroke-dasharray="1.2 1.55"/>
<line x1="371.5" y1="637.5" x2="374.5" y2="637.5" stroke="#666" stroke-width="0.6"/>
<text x="370.2" y="639.01" font-size="5.3" fill="#555" text-anchor="end" stroke="#555" stroke-width="0.11">30-40歳</text>
<line x1="374.5" y1="649.5" x2="569.5" y2="649.5" stroke="#bcbcbc" stroke-width="0.7" stroke-dasharray="1.2 1.55"/>
<line x1="371.5" y1="649.5" x2="374.5" y2="649.5" stroke="#666" stroke-width="0.6"/>
<text x="370.2" y="651.12" font-size="5.3" fill="#555" text-anchor="end" stroke="#555" stroke-width="0.11">20-30歳</text>
<line x1="374.5" y1="661.5" x2="569.5" y2="661.5" stroke="#bcbcbc" stroke-width="0.7" stroke-dasharray="1.2 1.55"/>
<line x1="371.5" y1="661.5" x2="374.5" y2="661.5" stroke="#666" stroke-width="0.6"/>
<text x="370.2" y="663.24" font-size="5.3" fill="#555" text-anchor="end" stroke="#555" stroke-width="0.11">10-20歳</text>
<line x1="374.5" y1="673.5" x2="569.5" y2="673.5" stroke="#bcbcbc" stroke-width="0.7" stroke-dasharray="1.2 1.55"/>
<line x1="371.5" y1="673.5" x2="374.5" y2="673.5" stroke="#666" stroke-width="0.6"/>
<text x="370.2" y="675.35" font-size="5.3" fill="#555" text-anchor="end" stroke="#555" stroke-width="0.11">0-9歳</text>
<path d="M472 547.01H449.43Q447.62 547.01 447.62 548.81V555.81Q447.62 557.61 449.43 557.61H472Z" fill="#0583c9"/>
<path d="M472 547.01H489.7Q491.5 547.01 491.5 548.81V555.81Q491.5 557.61 489.7 557.61H472Z" fill="#ff7f57"/>
<path d="M472 559.12H425.05Q423.25 559.12 423.25 560.92V567.92Q423.25 569.72 425.05 569.72H472Z" fill="#0583c9"/>
<path d="M472 559.12H515.7Q517.5 559.12 517.5 560.92V567.92Q517.5 569.72 515.7 569.72H472Z" fill="#ff7f57"/>
<path d="M472 571.23H457.55Q455.75 571.23 455.75 573.03V580.03Q455.75 581.83 457.55 581.83H472Z" fill="#0583c9"/>
<path d="M472 571.23H489.7Q491.5 571.23 491.5 573.03V580.03Q491.5 581.83 489.7 581.83H472Z" fill="#ff7f57"/>
<path d="M472 583.35H441.3Q439.5 583.35 439.5 585.15V592.15Q439.5 593.95 441.3 593.95H472Z" fill="#0583c9"/>
<path d="M472 583.35H499.45Q501.25 583.35 501.25 585.15V592.15Q501.25 593.95 499.45 593.95H472Z" fill="#ff7f57"/>
<path d="M472 595.46H384.43Q382.62 595.46 382.62 597.26V604.26Q382.62 606.06 384.43 606.06H472Z" fill="#0583c9"/>
<path d="M472 595.46H551.45Q553.25 595.46 553.25 597.26V604.26Q553.25 606.06 551.45 606.06H472Z" fill="#ff7f57"/>
<path d="M472 607.58H425.05Q423.25 607.58 423.25 609.38V616.38Q423.25 618.18 425.05 618.18H472Z" fill="#0583c9"/>
<path d="M472 607.58H515.7Q517.5 607.58 517.5 609.38V616.38Q517.5 618.18 515.7 618.18H472Z" fill="#ff7f57"/>
<path d="M472 619.69H441.3Q439.5 619.69 439.5 621.49V628.49Q439.5 630.29 441.3 630.29H472Z" fill="#0583c9"/>
<path d="M472 619.69H505.95Q507.75 619.69 507.75 621.49V628.49Q507.75 630.29 505.95 630.29H472Z" fill="#ff7f57"/>
<path d="M472 631.8H408.8Q407 631.8 407 633.6V640.6Q407 642.4 408.8 642.4H472Z" fill="#0583c9"/>
<path d="M472 631.8H531.95Q533.75 631.8 533.75 633.6V640.6Q533.75 642.4 531.95 642.4H472Z" fill="#ff7f57"/>
<path d="M472 643.92H425.05Q423.25 643.92 423.25 645.72V652.72Q423.25 654.52 425.05 654.52H472Z" fill="#0583c9"/>
<path d="M472 643.92H515.7Q517.5 643.92 517.5 645.72V652.72Q517.5 654.52 515.7 654.52H472Z" fill="#ff7f57"/>
<path d="M472 656.03H441.3Q439.5 656.03 439.5 657.83V664.83Q439.5 666.63 441.3 666.63H472Z" fill="#0583c9"/>
<path d="M472 656.03H499.45Q501.25 656.03 501.25 657.83V664.83Q501.25 666.63 499.45 666.63H472Z" fill="#ff7f57"/>
<path d="M472 668.14H457.55Q455.75 668.14 455.75 669.94V676.94Q455.75 678.74 457.55 678.74H472Z" fill="#0583c9"/>
<path d="M472 668.14H484.82Q486.62 668.14 486.62 669.94V676.94Q486.62 678.74 484.82 678.74H472Z" fill="#ff7f57"/>
<line x1="374.5" y1="546.25" x2="374.5" y2="679.5" stroke="#666" stroke-width="0.8"/>
<line x1="374.5" y1="679.5" x2="569.5" y2="679.5" stroke="#666" stroke-width="0.8"/>
<rect x="431" y="697.1" width="6.5" height="4.4" fill="#0583c9"/>
<text x="439.3" y="701.82" font-size="7" fill="#0583c9" stroke="#0583c9" stroke-width="0.14">男性</text>
<rect x="458.3" y="697.1" width="6.5" height="4.4" fill="#ff7f57"/>
<text x="466.6" y="701.82" font-size="7" fill="#ff7f57" stroke="#ff7f57" stroke-width="0.14">女性</text>
<text x="460.6" y="725" font-size="14.2" fill="#111" stroke="#111" stroke-width="0.2" text-anchor="middle"><tspan font-size="13.9" stroke-width="0.42">バタフライ（トルネード）チャート</tspan></text>
<text x="460.6" y="742.2" font-size="14.2" fill="#111" stroke="#111" stroke-width="0.2" text-anchor="middle"><tspan letter-spacing="0.36" stroke-width="0.3">Butterfly Chart</tspan></text>
<path d="M705.3 567.77L745.11 606.26L733.6 658.15L673.67 662.74L665.49 606.26Z" fill="#1aa36f" fill-opacity="0.05"/>
<path d="M705.3 589.3L756.49 602.57L734.83 659.84L677.53 657.42L654.11 602.57Z" fill="#b5261a" fill-opacity="0.04"/>
<path d="M705.3 604.25L719.52 614.58L714.09 631.29L696.51 631.29L691.08 614.58Z" fill="none" stroke="#cbcbcb" stroke-width="0.85"/>
<path d="M705.3 589.3L733.74 609.96L722.87 643.39L687.73 643.39L676.86 609.96Z" fill="none" stroke="#cbcbcb" stroke-width="0.85"/>
<path d="M705.3 574.35L747.95 605.34L731.66 655.48L678.94 655.48L662.65 605.34Z" fill="none" stroke="#cbcbcb" stroke-width="0.85"/>
<path d="M705.3 559.4L762.17 600.72L740.45 667.58L670.15 667.58L648.43 600.72Z" fill="none" stroke="#c4c4c4" stroke-width="0.6" stroke-dasharray="1.2 1.2"/>
<line x1="740.45" y1="667.58" x2="670.15" y2="667.58" stroke="#d4d4d4" stroke-width="0.8"/>
<line x1="705.3" y1="619.2" x2="705.3" y2="559.4" stroke="#cbcbcb" stroke-width="0.85"/>
<line x1="705.3" y1="619.2" x2="762.17" y2="600.72" stroke="#cbcbcb" stroke-width="0.85"/>
<line x1="705.3" y1="619.2" x2="740.45" y2="667.58" stroke="#cbcbcb" stroke-width="0.85"/>
<line x1="705.3" y1="619.2" x2="670.15" y2="667.58" stroke="#cbcbcb" stroke-width="0.85"/>
<line x1="705.3" y1="619.2" x2="648.43" y2="600.72" stroke="#cbcbcb" stroke-width="0.85"/>
<text x="707.5" y="618.87" font-size="6.3" fill="#bbb" stroke="#bbb" stroke-width="0.13">0</text>
<text x="709" y="603.92" font-size="6.3" fill="#bbb" stroke="#bbb" stroke-width="0.13">25</text>
<text x="709" y="588.97" font-size="6.3" fill="#bbb" stroke="#bbb" stroke-width="0.13">50</text>
<text x="709" y="574.02" font-size="6.3" fill="#bbb" stroke="#bbb" stroke-width="0.13">75</text>
<text x="707.8" y="557.4" font-size="5" fill="#bbb" stroke="#bbb" stroke-width="0.1">(%)</text>
<path d="M705.3 589.3L756.49 602.57L734.83 659.84L677.53 657.42L654.11 602.57Z" fill="none" stroke="#b5261a" stroke-width="2" stroke-opacity="0.6" stroke-linejoin="round"/>
<path d="M705.3 567.77L745.11 606.26L733.6 658.15L673.67 662.74L665.49 606.26Z" fill="none" stroke="#1aa36f" stroke-width="2" stroke-opacity="0.62" stroke-linejoin="round"/>
<circle cx="705.3" cy="589.3" r="0.9" fill="#b5261a" fill-opacity="0.8"/>
<circle cx="756.49" cy="602.57" r="0.9" fill="#b5261a" fill-opacity="0.8"/>
<circle cx="734.83" cy="659.84" r="0.9" fill="#b5261a" fill-opacity="0.8"/>
<circle cx="677.53" cy="657.42" r="0.9" fill="#b5261a" fill-opacity="0.8"/>
<circle cx="654.11" cy="602.57" r="0.9" fill="#b5261a" fill-opacity="0.8"/>
<circle cx="705.3" cy="567.77" r="0.9" fill="#1aa36f" fill-opacity="0.8"/>
<circle cx="745.11" cy="606.26" r="0.9" fill="#1aa36f" fill-opacity="0.8"/>
<circle cx="733.6" cy="658.15" r="0.9" fill="#1aa36f" fill-opacity="0.8"/>
<circle cx="673.67" cy="662.74" r="0.9" fill="#1aa36f" fill-opacity="0.8"/>
<circle cx="665.49" cy="606.26" r="0.9" fill="#1aa36f" fill-opacity="0.8"/>
<text x="705" y="555.52" font-size="7" fill="#999" text-anchor="middle" stroke="#999" stroke-width="0.14">値段</text>
<text x="766.3" y="599.32" font-size="7" fill="#999" stroke="#999" stroke-width="0.14">使いやすさ</text>
<text x="750" y="670.12" font-size="7" fill="#999" text-anchor="middle" stroke="#999" stroke-width="0.14">性能</text>
<text x="660.5" y="670.12" font-size="7" fill="#999" text-anchor="middle" stroke="#999" stroke-width="0.14">機能</text>
<text x="643.8" y="599.32" font-size="7" fill="#999" text-anchor="end" stroke="#999" stroke-width="0.14">頑丈さ</text>
<circle cx="671.5" cy="698.8" r="3.1" fill="#a82315"/>
<text x="676.3" y="701.5" font-size="7.5" fill="#a82315" stroke="#a82315" stroke-width="0.15">iPhone</text>
<circle cx="707.5" cy="698.8" r="3.1" fill="#169b6b"/>
<text x="712.5" y="701.5" font-size="7.5" fill="#169b6b" stroke="#169b6b" stroke-width="0.15">Android</text>
<text x="706" y="725" font-size="14.2" fill="#111" stroke="#111" stroke-width="0.2" text-anchor="middle"><tspan font-size="13.9" stroke-width="0.42">レーダーチャート</tspan></text>
<text x="706" y="742.2" font-size="14.2" fill="#111" stroke="#111" stroke-width="0.2" text-anchor="middle"><tspan letter-spacing="0.36" stroke-width="0.3">Radar Chart</tspan></text>
<line x1="877.75" y1="677.5" x2="880.75" y2="677.5" stroke="#666" stroke-width="0.6"/>
<text x="876.75" y="679.02" font-size="5.6" fill="#5a5a5a" text-anchor="end" stroke="#5a5a5a" stroke-width="0.11">0</text>
<line x1="880.75" y1="643.5" x2="1075" y2="643.5" stroke="#bcbcbc" stroke-width="0.7" stroke-dasharray="1.2 1.55"/>
<line x1="877.75" y1="643.5" x2="880.75" y2="643.5" stroke="#666" stroke-width="0.6"/>
<text x="876.75" y="645.2" font-size="5.6" fill="#5a5a5a" text-anchor="end" stroke="#5a5a5a" stroke-width="0.11">3,000</text>
<line x1="880.75" y1="609.5" x2="1075" y2="609.5" stroke="#bcbcbc" stroke-width="0.7" stroke-dasharray="1.2 1.55"/>
<line x1="877.75" y1="609.5" x2="880.75" y2="609.5" stroke="#666" stroke-width="0.6"/>
<text x="876.75" y="611.39" font-size="5.6" fill="#5a5a5a" text-anchor="end" stroke="#5a5a5a" stroke-width="0.11">6,000</text>
<line x1="880.75" y1="575.5" x2="1075" y2="575.5" stroke="#bcbcbc" stroke-width="0.7" stroke-dasharray="1.2 1.55"/>
<line x1="877.75" y1="575.5" x2="880.75" y2="575.5" stroke="#666" stroke-width="0.6"/>
<text x="876.75" y="577.58" font-size="5.6" fill="#5a5a5a" text-anchor="end" stroke="#5a5a5a" stroke-width="0.11">9,000</text>
<line x1="880.75" y1="541.5" x2="1075" y2="541.5" stroke="#bcbcbc" stroke-width="0.7" stroke-dasharray="1.2 1.55"/>
<line x1="877.75" y1="541.5" x2="880.75" y2="541.5" stroke="#666" stroke-width="0.6"/>
<text x="876.75" y="543.77" font-size="5.6" fill="#5a5a5a" text-anchor="end" stroke="#5a5a5a" stroke-width="0.11">12,000</text>
<line x1="892.5" y1="541.75" x2="892.5" y2="677" stroke="#bcbcbc" stroke-width="0.7" stroke-dasharray="1.2 1.55"/>
<line x1="892.5" y1="677" x2="892.5" y2="680" stroke="#666" stroke-width="0.6"/>
<text x="894.39" y="683.5" font-size="5.5" fill="#666" stroke="#666" stroke-width="0.1" text-anchor="end" transform="rotate(-45 894.39 683.5)">予想</text>
<line x1="917.5" y1="541.75" x2="917.5" y2="677" stroke="#bcbcbc" stroke-width="0.7" stroke-dasharray="1.2 1.55"/>
<line x1="917.5" y1="677" x2="917.5" y2="680" stroke="#666" stroke-width="0.6"/>
<text x="918.67" y="683.5" font-size="5.5" fill="#666" stroke="#666" stroke-width="0.1" text-anchor="end" transform="rotate(-45 918.67 683.5)">新規</text>
<line x1="941.5" y1="541.75" x2="941.5" y2="677" stroke="#bcbcbc" stroke-width="0.7" stroke-dasharray="1.2 1.55"/>
<line x1="941.5" y1="677" x2="941.5" y2="680" stroke="#666" stroke-width="0.6"/>
<text x="942.95" y="683.5" font-size="5.5" fill="#666" stroke="#666" stroke-width="0.1" text-anchor="end" transform="rotate(-45 942.95 683.5)">解約</text>
<line x1="965.5" y1="541.75" x2="965.5" y2="677" stroke="#bcbcbc" stroke-width="0.7" stroke-dasharray="1.2 1.55"/>
<line x1="965.5" y1="677" x2="965.5" y2="680" stroke="#666" stroke-width="0.6"/>
<text x="967.23" y="683.5" font-size="5.5" fill="#666" stroke="#666" stroke-width="0.1" text-anchor="end" transform="rotate(-45 967.23 683.5)">価格改定</text>
<line x1="990.5" y1="541.75" x2="990.5" y2="677" stroke="#bcbcbc" stroke-width="0.7" stroke-dasharray="1.2 1.55"/>
<line x1="990.5" y1="677" x2="990.5" y2="680" stroke="#666" stroke-width="0.6"/>
<text x="991.52" y="683.5" font-size="5.5" fill="#666" stroke="#666" stroke-width="0.1" text-anchor="end" transform="rotate(-45 991.52 683.5)">在庫調整</text>
<line x1="1014.5" y1="541.75" x2="1014.5" y2="677" stroke="#bcbcbc" stroke-width="0.7" stroke-dasharray="1.2 1.55"/>
<line x1="1014.5" y1="677" x2="1014.5" y2="680" stroke="#666" stroke-width="0.6"/>
<text x="1015.8" y="683.5" font-size="5.5" fill="#666" stroke="#666" stroke-width="0.1" text-anchor="end" transform="rotate(-45 1015.8 683.5)">為替</text>
<line x1="1038.5" y1="541.75" x2="1038.5" y2="677" stroke="#bcbcbc" stroke-width="0.7" stroke-dasharray="1.2 1.55"/>
<line x1="1038.5" y1="677" x2="1038.5" y2="680" stroke="#666" stroke-width="0.6"/>
<text x="1040.08" y="683.5" font-size="5.5" fill="#666" stroke="#666" stroke-width="0.1" text-anchor="end" transform="rotate(-45 1040.08 683.5)">キャンペーン</text>
<line x1="1062.5" y1="541.75" x2="1062.5" y2="677" stroke="#bcbcbc" stroke-width="0.7" stroke-dasharray="1.2 1.55"/>
<line x1="1062.5" y1="677" x2="1062.5" y2="680" stroke="#666" stroke-width="0.6"/>
<text x="1064.36" y="683.5" font-size="5.5" fill="#666" stroke="#666" stroke-width="0.1" text-anchor="end" transform="rotate(-45 1064.36 683.5)">合計</text>
<line x1="1075.5" y1="541.75" x2="1075.5" y2="677" stroke="#bcbcbc" stroke-width="0.7" stroke-dasharray="1.2 1.55"/>
<path d="M883.24 677V566.36Q883.24 564.86 884.74 564.86H901.14Q902.64 564.86 902.64 566.36V677Z" fill="#909090"/>
<rect x="907.52" y="544" width="19.4" height="20.29" fill="#2a9d8f" rx="1.8"/>
<rect x="931.8" y="544" width="19.4" height="16.91" fill="#e76f51" rx="1.8"/>
<rect x="956.08" y="551.33" width="19.4" height="9.58" fill="#2a9d8f" rx="1.8"/>
<rect x="980.37" y="551.33" width="19.4" height="7.33" fill="#e76f51" rx="1.8"/>
<rect x="1004.65" y="558.88" width="19.4" height="3.72" fill="#e76f51" rx="1.8"/>
<rect x="1028.93" y="555.84" width="19.4" height="6.76" fill="#2a9d8f" rx="1.8"/>
<path d="M1053.21 677V557.34Q1053.21 555.84 1054.71 555.84H1071.11Q1072.61 555.84 1072.61 557.34V677Z" fill="#ff0000"/>
<line x1="880.5" y1="541.75" x2="880.5" y2="677" stroke="#666" stroke-width="0.8"/>
<line x1="880.75" y1="677.5" x2="1075" y2="677.5" stroke="#666" stroke-width="0.8"/>
<text x="970" y="725" font-size="14.2" fill="#111" stroke="#111" stroke-width="0.2" text-anchor="middle"><tspan font-size="13.9" stroke-width="0.42">ウィーターフォールグラフ</tspan></text>
<text x="970" y="742.2" font-size="14.2" fill="#111" stroke="#111" stroke-width="0.2" text-anchor="middle"><tspan letter-spacing="0.36" stroke-width="0.3">Waterfall Cgart</tspan></text>
<line x1="97.5" y1="891.5" x2="100.5" y2="891.5" stroke="#666" stroke-width="0.6"/>
<text x="96.2" y="894.05" font-size="6.4" fill="#5a5a5a" text-anchor="end" stroke="#5a5a5a" stroke-width="0.13">0</text>
<line x1="100.5" y1="860.5" x2="320" y2="860.5" stroke="#bcbcbc" stroke-width="0.7" stroke-dasharray="1.2 1.55"/>
<line x1="97.5" y1="860.5" x2="100.5" y2="860.5" stroke="#666" stroke-width="0.6"/>
<text x="96.2" y="862.87" font-size="6.4" fill="#5a5a5a" text-anchor="end" stroke="#5a5a5a" stroke-width="0.13">7</text>
<line x1="100.5" y1="829.5" x2="320" y2="829.5" stroke="#bcbcbc" stroke-width="0.7" stroke-dasharray="1.2 1.55"/>
<line x1="97.5" y1="829.5" x2="100.5" y2="829.5" stroke="#666" stroke-width="0.6"/>
<text x="96.2" y="831.68" font-size="6.4" fill="#5a5a5a" text-anchor="end" stroke="#5a5a5a" stroke-width="0.13">14</text>
<line x1="100.5" y1="798.5" x2="320" y2="798.5" stroke="#bcbcbc" stroke-width="0.7" stroke-dasharray="1.2 1.55"/>
<line x1="97.5" y1="798.5" x2="100.5" y2="798.5" stroke="#666" stroke-width="0.6"/>
<text x="96.2" y="800.49" font-size="6.4" fill="#5a5a5a" text-anchor="end" stroke="#5a5a5a" stroke-width="0.13">21</text>
<line x1="100.5" y1="767.5" x2="320" y2="767.5" stroke="#bcbcbc" stroke-width="0.7" stroke-dasharray="1.2 1.55"/>
<line x1="97.5" y1="767.5" x2="100.5" y2="767.5" stroke="#666" stroke-width="0.6"/>
<text x="96.2" y="769.3" font-size="6.4" fill="#5a5a5a" text-anchor="end" stroke="#5a5a5a" stroke-width="0.13">28</text>
<line x1="111.5" y1="767" x2="111.5" y2="891.75" stroke="#bcbcbc" stroke-width="0.7" stroke-dasharray="1.2 1.55"/>
<line x1="133.5" y1="767" x2="133.5" y2="891.75" stroke="#bcbcbc" stroke-width="0.7" stroke-dasharray="1.2 1.55"/>
<line x1="155.5" y1="767" x2="155.5" y2="891.75" stroke="#bcbcbc" stroke-width="0.7" stroke-dasharray="1.2 1.55"/>
<line x1="177.5" y1="767" x2="177.5" y2="891.75" stroke="#bcbcbc" stroke-width="0.7" stroke-dasharray="1.2 1.55"/>
<line x1="199.5" y1="767" x2="199.5" y2="891.75" stroke="#bcbcbc" stroke-width="0.7" stroke-dasharray="1.2 1.55"/>
<line x1="221.5" y1="767" x2="221.5" y2="891.75" stroke="#bcbcbc" stroke-width="0.7" stroke-dasharray="1.2 1.55"/>
<line x1="243.5" y1="767" x2="243.5" y2="891.75" stroke="#bcbcbc" stroke-width="0.7" stroke-dasharray="1.2 1.55"/>
<line x1="265.5" y1="767" x2="265.5" y2="891.75" stroke="#bcbcbc" stroke-width="0.7" stroke-dasharray="1.2 1.55"/>
<line x1="287.5" y1="767" x2="287.5" y2="891.75" stroke="#bcbcbc" stroke-width="0.7" stroke-dasharray="1.2 1.55"/>
<line x1="309.5" y1="767" x2="309.5" y2="891.75" stroke="#bcbcbc" stroke-width="0.7" stroke-dasharray="1.2 1.55"/>
<line x1="320.5" y1="767" x2="320.5" y2="891.75" stroke="#bcbcbc" stroke-width="0.7" stroke-dasharray="1.2 1.55"/>
<path d="M100.5 891.75V870.27Q100.5 869.47 101.3 869.47H121.7Q122.5 869.47 122.5 870.27V891.75Z" fill="#41739f"/>
<line x1="111.5" y1="891.75" x2="111.5" y2="894.75" stroke="#666" stroke-width="0.6"/>
<text x="113.67" y="899.55" font-size="5.9" fill="#555" text-anchor="end" transform="rotate(-35 113.67 899.55)">10-19</text>
<path d="M122.45 891.75V874.73Q122.45 873.93 123.25 873.93H143.65Q144.45 873.93 144.45 874.73V891.75Z" fill="#41739f"/>
<line x1="122.45" y1="873.93" x2="122.45" y2="891.75" stroke="#fff" stroke-width="0.45" stroke-opacity="0.4"/>
<line x1="133.5" y1="891.75" x2="133.5" y2="894.75" stroke="#666" stroke-width="0.6"/>
<text x="135.62" y="899.55" font-size="5.9" fill="#555" text-anchor="end" transform="rotate(-35 135.62 899.55)">19-28</text>
<path d="M144.4 891.75V852.45Q144.4 851.65 145.2 851.65H165.6Q166.4 851.65 166.4 852.45V891.75Z" fill="#41739f"/>
<line x1="144.4" y1="873.93" x2="144.4" y2="891.75" stroke="#fff" stroke-width="0.45" stroke-opacity="0.4"/>
<line x1="155.5" y1="891.75" x2="155.5" y2="894.75" stroke="#666" stroke-width="0.6"/>
<text x="157.57" y="899.55" font-size="5.9" fill="#555" text-anchor="end" transform="rotate(-35 157.57 899.55)">28-37</text>
<path d="M166.35 891.75V848Q166.35 847.2 167.15 847.2H187.55Q188.35 847.2 188.35 848V891.75Z" fill="#41739f"/>
<line x1="166.35" y1="851.65" x2="166.35" y2="891.75" stroke="#fff" stroke-width="0.45" stroke-opacity="0.4"/>
<line x1="177.5" y1="891.75" x2="177.5" y2="894.75" stroke="#666" stroke-width="0.6"/>
<text x="179.52" y="899.55" font-size="5.9" fill="#555" text-anchor="end" transform="rotate(-35 179.52 899.55)">37-46</text>
<path d="M188.3 891.75V772.26Q188.3 771.46 189.1 771.46H209.5Q210.3 771.46 210.3 772.26V891.75Z" fill="#41739f"/>
<line x1="188.3" y1="847.2" x2="188.3" y2="891.75" stroke="#fff" stroke-width="0.45" stroke-opacity="0.4"/>
<line x1="199.5" y1="891.75" x2="199.5" y2="894.75" stroke="#666" stroke-width="0.6"/>
<text x="201.47" y="899.55" font-size="5.9" fill="#555" text-anchor="end" transform="rotate(-35 201.47 899.55)">46-55</text>
<path d="M210.25 891.75V794.53Q210.25 793.73 211.05 793.73H231.45Q232.25 793.73 232.25 794.53V891.75Z" fill="#41739f"/>
<line x1="210.25" y1="793.73" x2="210.25" y2="891.75" stroke="#fff" stroke-width="0.45" stroke-opacity="0.4"/>
<line x1="221.5" y1="891.75" x2="221.5" y2="894.75" stroke="#666" stroke-width="0.6"/>
<text x="223.42" y="899.55" font-size="5.9" fill="#555" text-anchor="end" transform="rotate(-35 223.42 899.55)">55-64</text>
<path d="M232.2 891.75V825.72Q232.2 824.92 233 824.92H253.4Q254.2 824.92 254.2 825.72V891.75Z" fill="#41739f"/>
<line x1="232.2" y1="824.92" x2="232.2" y2="891.75" stroke="#fff" stroke-width="0.45" stroke-opacity="0.4"/>
<line x1="243.5" y1="891.75" x2="243.5" y2="894.75" stroke="#666" stroke-width="0.6"/>
<text x="245.37" y="899.55" font-size="5.9" fill="#555" text-anchor="end" transform="rotate(-35 245.37 899.55)">64-73</text>
<path d="M254.15 891.75V834.63Q254.15 833.83 254.95 833.83H275.35Q276.15 833.83 276.15 834.63V891.75Z" fill="#41739f"/>
<line x1="254.15" y1="833.83" x2="254.15" y2="891.75" stroke="#fff" stroke-width="0.45" stroke-opacity="0.4"/>
<line x1="265.5" y1="891.75" x2="265.5" y2="894.75" stroke="#666" stroke-width="0.6"/>
<text x="267.32" y="899.55" font-size="5.9" fill="#555" text-anchor="end" transform="rotate(-35 267.32 899.55)">73-82</text>
<path d="M276.1 891.75V852.45Q276.1 851.65 276.9 851.65H297.3Q298.1 851.65 298.1 852.45V891.75Z" fill="#41739f"/>
<line x1="276.1" y1="851.65" x2="276.1" y2="891.75" stroke="#fff" stroke-width="0.45" stroke-opacity="0.4"/>
<line x1="287.5" y1="891.75" x2="287.5" y2="894.75" stroke="#666" stroke-width="0.6"/>
<text x="289.27" y="899.55" font-size="5.9" fill="#555" text-anchor="end" transform="rotate(-35 289.27 899.55)">82-91</text>
<path d="M298.05 891.75V861.36Q298.05 860.56 298.85 860.56H319.25Q320.05 860.56 320.05 861.36V891.75Z" fill="#41739f"/>
<line x1="298.05" y1="860.56" x2="298.05" y2="891.75" stroke="#fff" stroke-width="0.45" stroke-opacity="0.4"/>
<line x1="309.5" y1="891.75" x2="309.5" y2="894.75" stroke="#666" stroke-width="0.6"/>
<text x="311.22" y="899.55" font-size="5.9" fill="#555" text-anchor="end" transform="rotate(-35 311.22 899.55)">91-98</text>
<line x1="100.5" y1="767" x2="100.5" y2="891.75" stroke="#666" stroke-width="0.8"/>
<line x1="100.5" y1="891.5" x2="320" y2="891.5" stroke="#666" stroke-width="0.8"/>
<text x="200.3" y="943.2" font-size="14.2" fill="#111" stroke="#111" stroke-width="0.2" text-anchor="middle"><tspan font-size="13.9" stroke-width="0.42">ヒストグラム</tspan></text>
<text x="200.3" y="960.4" font-size="14.2" fill="#111" stroke="#111" stroke-width="0.2" text-anchor="middle"><tspan letter-spacing="0.36" stroke-width="0.3">Histogram</tspan></text>
<line x1="374.5" y1="766.5" x2="569.5" y2="766.5" stroke="#bcbcbc" stroke-width="0.7" stroke-dasharray="1.2 1.55"/>
<line x1="371.5" y1="899.5" x2="374.5" y2="899.5" stroke="#666" stroke-width="0.6"/>
<text x="370.2" y="901.34" font-size="5.1" fill="#555" text-anchor="end" stroke="#555" stroke-width="0.1">35km/h</text>
<line x1="374.5" y1="869.5" x2="569.5" y2="869.5" stroke="#bcbcbc" stroke-width="0.7" stroke-dasharray="1.2 1.55"/>
<line x1="371.5" y1="869.5" x2="374.5" y2="869.5" stroke="#666" stroke-width="0.6"/>
<text x="370.2" y="871.59" font-size="5.1" fill="#555" text-anchor="end" stroke="#555" stroke-width="0.1">70km/h</text>
<line x1="374.5" y1="839.5" x2="569.5" y2="839.5" stroke="#bcbcbc" stroke-width="0.7" stroke-dasharray="1.2 1.55"/>
<line x1="371.5" y1="839.5" x2="374.5" y2="839.5" stroke="#666" stroke-width="0.6"/>
<text x="370.2" y="841.59" font-size="5.1" fill="#555" text-anchor="end" stroke="#555" stroke-width="0.1">105km/h</text>
<line x1="374.5" y1="810.5" x2="569.5" y2="810.5" stroke="#bcbcbc" stroke-width="0.7" stroke-dasharray="1.2 1.55"/>
<line x1="371.5" y1="810.5" x2="374.5" y2="810.5" stroke="#666" stroke-width="0.6"/>
<text x="370.2" y="811.84" font-size="5.1" fill="#555" text-anchor="end" stroke="#555" stroke-width="0.1">140km/h</text>
<line x1="374.5" y1="780.5" x2="569.5" y2="780.5" stroke="#bcbcbc" stroke-width="0.7" stroke-dasharray="1.2 1.55"/>
<line x1="371.5" y1="780.5" x2="374.5" y2="780.5" stroke="#666" stroke-width="0.6"/>
<text x="370.2" y="781.84" font-size="5.1" fill="#555" text-anchor="end" stroke="#555" stroke-width="0.1">175km/h</text>
<line x1="374.5" y1="899.5" x2="374.5" y2="902.5" stroke="#666" stroke-width="0.6"/>
<text x="374.5" y="907.64" font-size="5.1" fill="#555" text-anchor="middle" stroke="#555" stroke-width="0.1">100cm</text>
<line x1="419.5" y1="766.75" x2="419.5" y2="899.5" stroke="#bcbcbc" stroke-width="0.7" stroke-dasharray="1.2 1.55"/>
<line x1="419.5" y1="899.5" x2="419.5" y2="902.5" stroke="#666" stroke-width="0.6"/>
<text x="419.81" y="907.64" font-size="5.1" fill="#555" text-anchor="middle" stroke="#555" stroke-width="0.1">125cm</text>
<line x1="465.5" y1="766.75" x2="465.5" y2="899.5" stroke="#bcbcbc" stroke-width="0.7" stroke-dasharray="1.2 1.55"/>
<line x1="465.5" y1="899.5" x2="465.5" y2="902.5" stroke="#666" stroke-width="0.6"/>
<text x="465.12" y="907.64" font-size="5.1" fill="#555" text-anchor="middle" stroke="#555" stroke-width="0.1">150cm</text>
<line x1="510.5" y1="766.75" x2="510.5" y2="899.5" stroke="#bcbcbc" stroke-width="0.7" stroke-dasharray="1.2 1.55"/>
<line x1="510.5" y1="899.5" x2="510.5" y2="902.5" stroke="#666" stroke-width="0.6"/>
<text x="510.44" y="907.64" font-size="5.1" fill="#555" text-anchor="middle" stroke="#555" stroke-width="0.1">175cm</text>
<line x1="555.5" y1="766.75" x2="555.5" y2="899.5" stroke="#bcbcbc" stroke-width="0.7" stroke-dasharray="1.2 1.55"/>
<line x1="555.5" y1="899.5" x2="555.5" y2="902.5" stroke="#666" stroke-width="0.6"/>
<text x="555.75" y="907.64" font-size="5.1" fill="#555" text-anchor="middle" stroke="#555" stroke-width="0.1">200cm</text>
<line x1="569.5" y1="766.75" x2="569.5" y2="899.5" stroke="#bcbcbc" stroke-width="0.7" stroke-dasharray="1.2 1.55"/>
<line x1="374.5" y1="766.75" x2="374.5" y2="899.5" stroke="#666" stroke-width="0.8"/>
<line x1="374.5" y1="899.5" x2="569.5" y2="899.5" stroke="#666" stroke-width="0.8"/>
<circle cx="392.5" cy="895.5" r="2.15" fill="#e76f51"/>
<circle cx="400" cy="887" r="2.15" fill="#e76f51"/>
<circle cx="416" cy="864.75" r="2.15" fill="#e76f51"/>
<circle cx="434.25" cy="861.25" r="2.15" fill="#e76f51"/>
<circle cx="454.25" cy="845" r="2.15" fill="#e76f51"/>
<circle cx="474" cy="835.75" r="2.15" fill="#e76f51"/>
<circle cx="483.25" cy="810" r="2.15" fill="#2a9d8f"/>
<circle cx="501.25" cy="805.75" r="2.15" fill="#2a9d8f"/>
<circle cx="515.75" cy="801.5" r="2.15" fill="#2a9d8f"/>
<circle cx="519.5" cy="797.25" r="2.15" fill="#2a9d8f"/>
<circle cx="537.5" cy="792.5" r="2.15" fill="#2a9d8f"/>
<circle cx="555.75" cy="791.25" r="2.15" fill="#2a9d8f"/>
<circle cx="515.75" cy="803.25" r="2.15" fill="#f4a261"/>
<circle cx="523" cy="801.5" r="2.15" fill="#f4a261"/>
<circle cx="528.5" cy="797.25" r="2.15" fill="#f4a261"/>
<circle cx="535.75" cy="794.5" r="2.15" fill="#f4a261"/>
<circle cx="537.5" cy="791.25" r="2.15" fill="#f4a261"/>
<circle cx="555.75" cy="788.75" r="2.15" fill="#f4a261"/>
<circle cx="409.5" cy="919.3" r="3.3" fill="#2a9d8f"/>
<text x="414.5" y="921.75" font-size="6.8" fill="#2a9d8f" stroke="#2a9d8f" stroke-width="0.14">NPB</text>
<circle cx="437" cy="919.3" r="3.3" fill="#f4a261"/>
<text x="441.8" y="921.75" font-size="6.8" fill="#f4a261" stroke="#f4a261" stroke-width="0.14">MLB</text>
<circle cx="465" cy="919.3" r="3.3" fill="#e76f51"/>
<text x="470" y="921.82" font-size="7" fill="#e76f51" stroke="#e76f51" stroke-width="0.14">アマチュア</text>
<text x="458.8" y="943.2" font-size="14.2" fill="#111" stroke="#111" stroke-width="0.2" text-anchor="middle"><tspan font-size="13.9" stroke-width="0.42">散布図</tspan></text>
<text x="458.8" y="960.4" font-size="14.2" fill="#111" stroke="#111" stroke-width="0.2" text-anchor="middle"><tspan letter-spacing="0.36" stroke-width="0.3">Scatter Plot</tspan></text>
<line x1="620.5" y1="762.5" x2="820" y2="762.5" stroke="#bcbcbc" stroke-width="0.7" stroke-dasharray="1.2 1.55"/>
<line x1="617.5" y1="899.5" x2="620.5" y2="899.5" stroke="#666" stroke-width="0.6"/>
<text x="616.2" y="901.09" font-size="5.1" fill="#555" text-anchor="end" stroke="#555" stroke-width="0.1">70pt</text>
<line x1="620.5" y1="868.5" x2="820" y2="868.5" stroke="#bcbcbc" stroke-width="0.7" stroke-dasharray="1.2 1.55"/>
<line x1="617.5" y1="868.5" x2="620.5" y2="868.5" stroke="#666" stroke-width="0.6"/>
<text x="616.2" y="870.09" font-size="5.1" fill="#555" text-anchor="end" stroke="#555" stroke-width="0.1">77pt</text>
<line x1="620.5" y1="837.5" x2="820" y2="837.5" stroke="#bcbcbc" stroke-width="0.7" stroke-dasharray="1.2 1.55"/>
<line x1="617.5" y1="837.5" x2="620.5" y2="837.5" stroke="#666" stroke-width="0.6"/>
<text x="616.2" y="839.59" font-size="5.1" fill="#555" text-anchor="end" stroke="#555" stroke-width="0.1">84pt</text>
<line x1="620.5" y1="807.5" x2="820" y2="807.5" stroke="#bcbcbc" stroke-width="0.7" stroke-dasharray="1.2 1.55"/>
<line x1="617.5" y1="807.5" x2="620.5" y2="807.5" stroke="#666" stroke-width="0.6"/>
<text x="616.2" y="809.09" font-size="5.1" fill="#555" text-anchor="end" stroke="#555" stroke-width="0.1">91pt</text>
<line x1="620.5" y1="776.5" x2="820" y2="776.5" stroke="#bcbcbc" stroke-width="0.7" stroke-dasharray="1.2 1.55"/>
<line x1="617.5" y1="776.5" x2="620.5" y2="776.5" stroke="#666" stroke-width="0.6"/>
<text x="616.2" y="778.34" font-size="5.1" fill="#555" text-anchor="end" stroke="#555" stroke-width="0.1">98pt</text>
<line x1="620.5" y1="899.25" x2="620.5" y2="902.25" stroke="#666" stroke-width="0.6"/>
<text x="620.5" y="907.59" font-size="5.1" fill="#555" text-anchor="middle" stroke="#555" stroke-width="0.1">20歳</text>
<line x1="666.5" y1="762" x2="666.5" y2="899.25" stroke="#bcbcbc" stroke-width="0.7" stroke-dasharray="1.2 1.55"/>
<line x1="666.5" y1="899.25" x2="666.5" y2="902.25" stroke="#666" stroke-width="0.6"/>
<text x="666.88" y="907.59" font-size="5.1" fill="#555" text-anchor="middle" stroke="#555" stroke-width="0.1">24歳</text>
<line x1="713.5" y1="762" x2="713.5" y2="899.25" stroke="#bcbcbc" stroke-width="0.7" stroke-dasharray="1.2 1.55"/>
<line x1="713.5" y1="899.25" x2="713.5" y2="902.25" stroke="#666" stroke-width="0.6"/>
<text x="713.25" y="907.59" font-size="5.1" fill="#555" text-anchor="middle" stroke="#555" stroke-width="0.1">28歳</text>
<line x1="759.5" y1="762" x2="759.5" y2="899.25" stroke="#bcbcbc" stroke-width="0.7" stroke-dasharray="1.2 1.55"/>
<line x1="759.5" y1="899.25" x2="759.5" y2="902.25" stroke="#666" stroke-width="0.6"/>
<text x="759.62" y="907.59" font-size="5.1" fill="#555" text-anchor="middle" stroke="#555" stroke-width="0.1">32歳</text>
<line x1="806.5" y1="762" x2="806.5" y2="899.25" stroke="#bcbcbc" stroke-width="0.7" stroke-dasharray="1.2 1.55"/>
<line x1="806.5" y1="899.25" x2="806.5" y2="902.25" stroke="#666" stroke-width="0.6"/>
<text x="806" y="907.59" font-size="5.1" fill="#555" text-anchor="middle" stroke="#555" stroke-width="0.1">36歳</text>
<line x1="820.5" y1="762" x2="820.5" y2="899.25" stroke="#bcbcbc" stroke-width="0.7" stroke-dasharray="1.2 1.55"/>
<line x1="620.5" y1="762" x2="620.5" y2="899.25" stroke="#666" stroke-width="0.8"/>
<line x1="620.5" y1="899.5" x2="820" y2="899.5" stroke="#666" stroke-width="0.8"/>
<circle cx="666.75" cy="820.25" r="8.25" fill="#2a9d8f" fill-opacity="0.8"/>
<circle cx="713" cy="789.5" r="9" fill="#2a9d8f" fill-opacity="0.8"/>
<circle cx="748" cy="776.25" r="9.25" fill="#2a9d8f" fill-opacity="0.8"/>
<circle cx="724.75" cy="833.25" r="5" fill="#2a9d8f" fill-opacity="0.8"/>
<circle cx="643.75" cy="855.25" r="2.5" fill="#2a9d8f" fill-opacity="0.8"/>
<circle cx="806" cy="877.25" r="5.5" fill="#2a9d8f" fill-opacity="0.8"/>
<circle cx="655.5" cy="833.25" r="9" fill="#f4a261" fill-opacity="0.8"/>
<circle cx="701.75" cy="802.75" r="9.75" fill="#f4a261" fill-opacity="0.8"/>
<circle cx="724.75" cy="846.5" r="5.5" fill="#f4a261" fill-opacity="0.8"/>
<circle cx="748" cy="855.25" r="7" fill="#f4a261" fill-opacity="0.8"/>
<circle cx="782.75" cy="820.25" r="7.5" fill="#f4a261" fill-opacity="0.8"/>
<circle cx="632" cy="864" r="3" fill="#f4a261" fill-opacity="0.8"/>
<circle cx="681.3" cy="919.3" r="3.2" fill="#2a9d8f" fill-opacity="0.85"/>
<text x="686.8" y="921.75" font-size="6.8" fill="#2a9d8f" stroke="#2a9d8f" stroke-width="0.14">NPB</text>
<circle cx="709.5" cy="919.3" r="3.2" fill="#f4a261" fill-opacity="0.85"/>
<text x="715" y="921.75" font-size="6.8" fill="#f4a261" stroke="#f4a261" stroke-width="0.14">MLB</text>
<text x="706.9" y="943.2" font-size="14.2" fill="#111" stroke="#111" stroke-width="0.2" text-anchor="middle"><tspan font-size="13.9" stroke-width="0.42">バブルチャート</tspan></text>
<text x="706.9" y="960.4" font-size="14.2" fill="#111" stroke="#111" stroke-width="0.2" text-anchor="middle"><tspan letter-spacing="0.36" stroke-width="0.3">Bubble Chart</tspan></text>
<line x1="840.5" y1="758" x2="840.5" y2="915.5" stroke="#e8e8e8" stroke-width="0.6"/>
<line x1="969.75" y1="785" x2="899.25" y2="815.5" stroke="#7d8d99" stroke-width="0.6"/>
<line x1="969.75" y1="785" x2="969.75" y2="815" stroke="#7d8d99" stroke-width="0.7"/>
<line x1="969.75" y1="785" x2="1040.75" y2="815.5" stroke="#7d8d99" stroke-width="0.6"/>
<line x1="899.25" y1="841.7" x2="899.25" y2="871.8" stroke="#7d8d99" stroke-width="0.7"/>
<line x1="969.75" y1="841.7" x2="969.75" y2="871.8" stroke="#7d8d99" stroke-width="0.7"/>
<line x1="1041" y1="841.7" x2="1041" y2="871.8" stroke="#7d8d99" stroke-width="0.7"/>
<rect x="941.25" y="761" width="57" height="23.9" fill="#fff" rx="2" stroke="#bcbcbc" stroke-width="0.7"/>
<text x="969.75" y="775.16" font-size="6" fill="#222" text-anchor="middle" font-weight="bold" stroke="#222" stroke-width="0.21">和食</text>
<rect x="870.75" y="817.25" width="57" height="23.9" fill="#fff" rx="2" stroke="#bcbcbc" stroke-width="0.7"/>
<text x="899.25" y="831.41" font-size="6" fill="#222" text-anchor="middle" font-weight="bold" stroke="#222" stroke-width="0.21">主食</text>
<rect x="941.25" y="817.25" width="57" height="23.9" fill="#fff" rx="2" stroke="#bcbcbc" stroke-width="0.7"/>
<text x="969.75" y="831.41" font-size="6" fill="#222" text-anchor="middle" font-weight="bold" stroke="#222" stroke-width="0.21">主菜</text>
<rect x="1012.5" y="817.25" width="57" height="23.9" fill="#fff" rx="2" stroke="#bcbcbc" stroke-width="0.7"/>
<text x="1041" y="831.41" font-size="6" fill="#222" text-anchor="middle" font-weight="bold" stroke="#222" stroke-width="0.21">副菜</text>
<rect x="870.75" y="873.75" width="57" height="23.9" fill="#fff" rx="2" stroke="#bcbcbc" stroke-width="0.7"/>
<text x="899.25" y="887.91" font-size="6" fill="#222" text-anchor="middle" font-weight="bold" stroke="#222" stroke-width="0.21">ご飯</text>
<rect x="941.25" y="873.75" width="57" height="23.9" fill="#fff" rx="2" stroke="#bcbcbc" stroke-width="0.7"/>
<text x="969.75" y="887.91" font-size="6" fill="#222" text-anchor="middle" font-weight="bold" stroke="#222" stroke-width="0.21">焼き魚</text>
<rect x="1012.5" y="873.75" width="57" height="23.9" fill="#fff" rx="2" stroke="#bcbcbc" stroke-width="0.7"/>
<text x="1041" y="887.91" font-size="6" fill="#222" text-anchor="middle" font-weight="bold" stroke="#222" stroke-width="0.21">味噌汁</text>
<text x="964.3" y="943.2" font-size="14.2" fill="#111" stroke="#111" stroke-width="0.2" text-anchor="middle"><tspan font-size="13.9" stroke-width="0.42">樹形図</tspan></text>
<text x="964.3" y="960.4" font-size="14.2" fill="#111" stroke="#111" stroke-width="0.2" text-anchor="middle"><tspan letter-spacing="0.36" stroke-width="0.3">Tree Diagram</tspan></text>
<line x1="203.5" y1="1029.5" x2="203.5" y2="1041.75" stroke="#8f8f8f" stroke-width="0.7"/>
<path d="M202.2 1039.55L203.5 1041.75L204.8 1039.55" fill="none" stroke="#8f8f8f" stroke-width="0.7"/>
<path d="M173 1058.25H144.25Q143.25 1058.25 143.25 1059.25V1075" fill="none" stroke="#8f8f8f" stroke-width="0.7"/>
<path d="M141.95 1072.8L143.25 1075L144.55 1072.8" fill="none" stroke="#8f8f8f" stroke-width="0.7"/>
<path d="M234 1058.25H260.5Q261.5 1058.25 261.5 1059.25V1108" fill="none" stroke="#8f8f8f" stroke-width="0.7"/>
<path d="M260.2 1105.8L261.5 1108L262.8 1105.8" fill="none" stroke="#8f8f8f" stroke-width="0.7"/>
<path d="M143.25 1091.5V1099Q143.25 1100 144.25 1100H261.5" fill="none" stroke="#8f8f8f" stroke-width="0.7"/>
<path d="M261.5 1124.5V1132.25Q261.5 1133.25 260.5 1133.25H208.5Q207.5 1133.25 207.5 1134.25V1141.25" fill="none" stroke="#8f8f8f" stroke-width="0.7"/>
<path d="M206.2 1139.05L207.5 1141.25L208.8 1139.05" fill="none" stroke="#8f8f8f" stroke-width="0.7"/>
<rect x="150.25" y="1056" width="10" height="4.6" fill="#fff" rx="0.8" stroke="#ccc" stroke-width="0.4"/>
<text x="155.25" y="1059.31" font-size="2.6" fill="#5a5a5a" text-anchor="middle" stroke="#5a5a5a" stroke-width="0.05">いいえ</text>
<rect x="258.75" y="1077.5" width="5.6" height="5" fill="#fff" rx="0.5"/>
<text x="261.5" y="1080.94" font-size="2.6" fill="#5a5a5a" text-anchor="middle" stroke="#5a5a5a" stroke-width="0.05">はい</text>
<rect x="168.5" y="1013.25" width="70" height="16.25" fill="#d4f4d6" rx="1.8" stroke="#222" stroke-width="0.85"/>
<text x="203.5" y="1022.85" font-size="4.1" fill="#000" text-anchor="middle" font-weight="bold" stroke="#000" stroke-width="0.14">問い合わせ</text>
<path d="M173 1058.25L203.5 1041.75L234 1058.25L203.5 1074.75Z" fill="#fbe88a" stroke="#222" stroke-width="0.85" stroke-linejoin="round"/>
<text x="203.5" y="1059.76" font-size="4.2" fill="#000" text-anchor="middle" font-weight="bold" stroke="#000" stroke-width="0.15">顧客の課題は明確か？</text>
<rect x="119.25" y="1075.25" width="48.75" height="16.25" fill="#e2e2e2" rx="1.8" stroke="#222" stroke-width="0.85"/>
<text x="143.62" y="1084.85" font-size="4.1" fill="#000" text-anchor="middle" font-weight="bold" stroke="#000" stroke-width="0.14">要件をヒアリング</text>
<rect x="239.25" y="1108.25" width="44.25" height="16.25" fill="#e2e2e2" rx="1.8" stroke="#222" stroke-width="0.85"/>
<text x="261.38" y="1117.85" font-size="4.1" fill="#000" text-anchor="middle" font-weight="bold" stroke="#000" stroke-width="0.14">タスクを実行</text>
<rect x="185.25" y="1141.5" width="45" height="16" fill="#f8d7d7" rx="1.8" stroke="#222" stroke-width="0.85"/>
<text x="207.75" y="1150.98" font-size="4.1" fill="#000" text-anchor="middle" font-weight="bold" stroke="#000" stroke-width="0.14">終了</text>
<text x="200" y="1197" font-size="14.2" fill="#111" stroke="#111" stroke-width="0.2" text-anchor="middle"><tspan font-size="13.9" stroke-width="0.42">フローチャート</tspan></text>
<text x="200" y="1214.2" font-size="14.2" fill="#111" stroke="#111" stroke-width="0.2" text-anchor="middle"><tspan letter-spacing="0.36" stroke-width="0.3">Flow Chart</tspan></text>
<defs><linearGradient id="sg1" x1="0" x2="1" y1="0" y2="0"><stop offset="0" stop-color="#abb3d8"/><stop offset="0.85" stop-color="#a8dabc"/><stop offset="1" stop-color="#a8dabc"/></linearGradient><linearGradient id="sg2" x1="0" x2="1" y1="0" y2="0"><stop offset="0" stop-color="#88a4ea"/><stop offset="0.5" stop-color="#6aa8f6"/><stop offset="1" stop-color="#52a9fc"/></linearGradient><linearGradient id="sg3" x1="0" x2="1" y1="0" y2="0"><stop offset="0" stop-color="#bddcb0"/><stop offset="0.78" stop-color="#fdd78c"/><stop offset="1" stop-color="#fdd78c"/></linearGradient><linearGradient id="sg4" x1="0" x2="1" y1="0" y2="0"><stop offset="0" stop-color="#d6be9c"/><stop offset="0.62" stop-color="#fca87c"/><stop offset="1" stop-color="#fda578"/></linearGradient></defs>
<path d="M367 1025.75C413 1025.75 413 1027.5 459 1027.5L459 1104.5C413 1104.5 413 1103 367 1103Z" fill="url(#sg1)" fill-opacity="1"/>
<path d="M367 1103C461 1103 461 1114.75 555 1114.75L555 1133.75C461 1133.75 461 1122 367 1122Z" fill="url(#sg2)" fill-opacity="1"/>
<path d="M462.5 1027.5C508.75 1027.5 508.75 1010 555 1010L555 1057.5C508.75 1057.5 508.75 1075.75 462.5 1075.75Z" fill="url(#sg3)" fill-opacity="1"/>
<path d="M462.5 1075.75C508.75 1075.75 508.75 1072 555 1072L555 1100.5C508.75 1100.5 508.75 1104.5 462.5 1104.5Z" fill="url(#sg4)" fill-opacity="1"/>
<rect x="363.75" y="1025.75" width="3.3" height="96.25" fill="#8884d8"/>
<rect x="459" y="1027.5" width="3.5" height="77" fill="#82ca9d"/>
<rect x="555" y="1010" width="3.7" height="47.5" fill="#ffc658"/>
<rect x="555" y="1072" width="3.7" height="28.5" fill="#ff8042"/>
<rect x="555" y="1114.75" width="3.7" height="19" fill="#0088fe"/>
<text x="369" y="1073.66" font-size="4.6" fill="#111" font-weight="bold" stroke="#111" stroke-width="0.16">収入</text>
<text x="369" y="1078.83" font-size="4.4" fill="#111" font-weight="bold" stroke="#111" stroke-width="0.15">100</text>
<text x="464.75" y="1066.16" font-size="4.6" fill="#111" font-weight="bold" stroke="#111" stroke-width="0.16">支出</text>
<text x="464.75" y="1071.33" font-size="4.4" fill="#111" font-weight="bold" stroke="#111" stroke-width="0.15">80</text>
<text x="560.25" y="1034.16" font-size="4.6" fill="#111" font-weight="bold" stroke="#111" stroke-width="0.16">食費</text>
<text x="560.25" y="1039.33" font-size="4.4" fill="#111" font-weight="bold" stroke="#111" stroke-width="0.15">50</text>
<text x="560.25" y="1086.66" font-size="4.6" fill="#111" font-weight="bold" stroke="#111" stroke-width="0.16">交通費</text>
<text x="560.25" y="1091.83" font-size="4.4" fill="#111" font-weight="bold" stroke="#111" stroke-width="0.15">30</text>
<text x="560.25" y="1124.16" font-size="4.6" fill="#111" font-weight="bold" stroke="#111" stroke-width="0.16">貯金</text>
<text x="560.25" y="1129.33" font-size="4.4" fill="#111" font-weight="bold" stroke="#111" stroke-width="0.15">20</text>
<text x="458.8" y="1197" font-size="14.2" fill="#111" stroke="#111" stroke-width="0.2" text-anchor="middle"><tspan font-size="13.9" stroke-width="0.42">サンキーダイアグラム</tspan></text>
<text x="458.8" y="1214.2" font-size="14.2" fill="#111" stroke="#111" stroke-width="0.2" text-anchor="middle"><tspan letter-spacing="0.36" stroke-width="0.3">Sankey Diagram</tspan></text>
<rect x="612" y="1003" width="84.25" height="97" fill="#757575" stroke="#fff" stroke-width="0.35" stroke-opacity="0.6"/>
<rect x="612" y="1100" width="36.5" height="32" fill="#757575" stroke="#fff" stroke-width="0.35" stroke-opacity="0.6"/>
<rect x="648.5" y="1100" width="24" height="32" fill="#757575" stroke="#fff" stroke-width="0.35" stroke-opacity="0.6"/>
<rect x="672.5" y="1100" width="23.75" height="20" fill="#757575" stroke="#fff" stroke-width="0.35" stroke-opacity="0.6"/>
<rect x="672.5" y="1120" width="23.75" height="12" fill="#757575" stroke="#fff" stroke-width="0.35" stroke-opacity="0.6"/>
<rect x="697" y="1003" width="67.25" height="42.25" fill="#3ea422" stroke="#fff" stroke-width="0.35" stroke-opacity="0.6"/>
<rect x="697" y="1045.25" width="31.25" height="45" fill="#3ea422" stroke="#fff" stroke-width="0.35" stroke-opacity="0.6"/>
<rect x="728.25" y="1045.25" width="15" height="31.75" fill="#3ea422" stroke="#fff" stroke-width="0.35" stroke-opacity="0.6"/>
<rect x="743.25" y="1045.25" width="21" height="31.75" fill="#3ea422" stroke="#fff" stroke-width="0.35" stroke-opacity="0.6"/>
<rect x="728.25" y="1077" width="36" height="13.25" fill="#3ea422" stroke="#fff" stroke-width="0.35" stroke-opacity="0.6"/>
<rect x="765" y="1003" width="35.5" height="39.25" fill="#2970c4" stroke="#fff" stroke-width="0.35" stroke-opacity="0.6"/>
<rect x="800.5" y="1003" width="24.5" height="39.25" fill="#2970c4" stroke="#fff" stroke-width="0.35" stroke-opacity="0.6"/>
<rect x="765" y="1042.25" width="39.25" height="48" fill="#2970c4" stroke="#fff" stroke-width="0.35" stroke-opacity="0.6"/>
<rect x="804.25" y="1042.25" width="20.75" height="48" fill="#2970c4" stroke="#fff" stroke-width="0.35" stroke-opacity="0.6"/>
<rect x="697" y="1091" width="22.5" height="41" fill="#c46f00" stroke="#fff" stroke-width="0.35" stroke-opacity="0.6"/>
<rect x="719.5" y="1091" width="12.25" height="41" fill="#c46f00" stroke="#fff" stroke-width="0.35" stroke-opacity="0.6"/>
<rect x="731.75" y="1091" width="58.75" height="41" fill="#c46f00" stroke="#fff" stroke-width="0.35" stroke-opacity="0.6"/>
<rect x="790.5" y="1091" width="34.5" height="41" fill="#c46f00" stroke="#fff" stroke-width="0.35" stroke-opacity="0.6"/>
<line x1="696.62" y1="1003" x2="696.62" y2="1132" stroke="#fff" stroke-width="0.8"/>
<line x1="764.62" y1="1003" x2="764.62" y2="1090.5" stroke="#fff" stroke-width="0.8"/>
<line x1="696.62" y1="1090.62" x2="825" y2="1090.62" stroke="#fff" stroke-width="0.45"/>
<text x="613.75" y="1007.69" font-size="3.3" fill="#fff" fill-opacity="0.92">家賃 80,000円</text>
<text x="613.75" y="1104.94" font-size="3.3" fill="#fff" fill-opacity="0.92">水道光熱費 12,000円</text>
<text x="674.25" y="1104.94" font-size="3.3" fill="#fff" fill-opacity="0.92">保険料 5,000円</text>
<text x="698.25" y="1007.69" font-size="3.3" fill="#fff" fill-opacity="0.92">食費 (自炊) 30,000円</text>
<text x="698.25" y="1050.69" font-size="3.3" fill="#fff" fill-opacity="0.92">外食費 15,000円</text>
<text x="729.5" y="1082.44" font-size="3.3" fill="#fff" fill-opacity="0.92">医療・健康 5,000円</text>
<text x="766.25" y="1007.69" font-size="3.3" fill="#fff" fill-opacity="0.92">飲み会・交際費 10,000円</text>
<text x="766.25" y="1047.94" font-size="3.3" fill="#fff" fill-opacity="0.92">旅行 20,000円</text>
<text x="733.25" y="1095.69" font-size="3.3" fill="#fff" fill-opacity="0.92">貯金 25,000円</text>
<text x="792" y="1095.69" font-size="3.3" fill="#fff" fill-opacity="0.92">投資 10,000円</text>
<text x="654.25" y="1069.55" font-size="4.3" fill="#fff" text-anchor="middle" font-weight="bold">固定費</text>
<text x="730" y="1048.55" font-size="4.3" fill="#fff" text-anchor="middle" font-weight="bold">変動費</text>
<text x="795" y="1048.55" font-size="4.3" fill="#fff" text-anchor="middle" font-weight="bold">娯楽・嗜好</text>
<text x="760.75" y="1113.55" font-size="4.3" fill="#fff" text-anchor="middle" font-weight="bold">自己投資・貯金</text>
<text x="719" y="1197" font-size="14.2" fill="#111" stroke="#111" stroke-width="0.2" text-anchor="middle"><tspan font-size="13.9" stroke-width="0.42">ツリーマップ</tspan></text>
<text x="719" y="1214.2" font-size="14.2" fill="#111" stroke="#111" stroke-width="0.2" text-anchor="middle"><tspan letter-spacing="0.36" stroke-width="0.3">Treemap</tspan></text>
<path d="M863.75 1007L1059 1007L1039.25 1035.05L883.55 1035.05Z" fill="#80bfff"/>
<path d="M883.55 1034.75L1039.25 1034.75L1019.86 1062.3L902.99 1062.3Z" fill="#55aaff"/>
<path d="M902.99 1062L1019.86 1062L1000.11 1090.05L922.79 1090.05Z" fill="#2b95ff"/>
<path d="M922.79 1089.75L1000.11 1089.75L980.72 1117.3L942.24 1117.3Z" fill="#0080ff"/>
<path d="M942.24 1117L980.72 1117L961.5 1144L961.5 1144Z" fill="#0066d0"/>
<text x="961.5" y="1023.3" font-size="6.4" fill="#fff" text-anchor="middle" fill-opacity="0.95">サイト訪問</text>
<text x="961.5" y="1050.55" font-size="6.4" fill="#fff" text-anchor="middle" fill-opacity="0.95">問い合わせ</text>
<text x="961.5" y="1078.05" font-size="6.4" fill="#fff" text-anchor="middle" fill-opacity="0.95">商談</text>
<text x="961.5" y="1105.3" font-size="6.4" fill="#fff" text-anchor="middle" fill-opacity="0.95">見積</text>
<text x="961.5" y="1133.05" font-size="6.4" fill="#fff" text-anchor="middle" fill-opacity="0.95">成約</text>
<text x="958.9" y="1197" font-size="14.2" fill="#111" stroke="#111" stroke-width="0.2" text-anchor="middle"><tspan font-size="13.9" stroke-width="0.42">ファネルチャート</tspan></text>
<text x="958.9" y="1214.2" font-size="14.2" fill="#111" stroke="#111" stroke-width="0.2" text-anchor="middle"><tspan letter-spacing="0.36" stroke-width="0.3">Funnel Chart</tspan></text>
<path d="M240.97 1416.29A81.6 81.6 0 0 0 190.4 1270.65L190.4 1305.65A46.6 46.6 0 0 1 219.28 1388.82Z" fill="#757575"/>
<path d="M136.33 1413.36A81.6 81.6 0 0 0 240.97 1416.29L219.28 1388.82A46.6 46.6 0 0 1 159.52 1387.15Z" fill="#3ea422"/>
<path d="M113.77 1324.21A81.6 81.6 0 0 0 136.33 1413.36L159.52 1387.15A46.6 46.6 0 0 1 146.64 1336.24Z" fill="#2970c4"/>
<path d="M190.4 1270.65A81.6 81.6 0 0 0 113.77 1324.21L146.64 1336.24A46.6 46.6 0 0 1 190.4 1305.65Z" fill="#c46f00"/>
<circle cx="190.4" cy="1352.25" r="65.9" fill="none" stroke="#fff" stroke-opacity="0.10" stroke-width="0.5"/>
<line x1="253.42" y1="1371.52" x2="268.43" y2="1376.11" stroke="#fff" stroke-width="0.4" stroke-opacity="0.11"/>
<line x1="248.31" y1="1383.69" x2="262.11" y2="1391.19" stroke="#fff" stroke-width="0.4" stroke-opacity="0.11"/>
<line x1="243.71" y1="1390.99" x2="256.42" y2="1400.21" stroke="#fff" stroke-width="0.4" stroke-opacity="0.11"/>
<line x1="239.76" y1="1395.92" x2="251.51" y2="1406.32" stroke="#fff" stroke-width="0.4" stroke-opacity="0.11"/>
<line x1="236.18" y1="1399.65" x2="247.08" y2="1410.95" stroke="#fff" stroke-width="0.4" stroke-opacity="0.11"/>
<line x1="190.4" y1="1418.15" x2="190.4" y2="1433.85" stroke="#fff" stroke-width="0.4" stroke-opacity="0.11"/>
<line x1="171.13" y1="1415.27" x2="166.54" y2="1430.28" stroke="#fff" stroke-width="0.4" stroke-opacity="0.11"/>
<line x1="161.51" y1="1411.48" x2="154.63" y2="1425.59" stroke="#fff" stroke-width="0.4" stroke-opacity="0.11"/>
<line x1="154.51" y1="1407.52" x2="145.96" y2="1420.69" stroke="#fff" stroke-width="0.4" stroke-opacity="0.11"/>
<line x1="135.77" y1="1389.1" x2="122.75" y2="1397.88" stroke="#fff" stroke-width="0.4" stroke-opacity="0.11"/>
<line x1="127.73" y1="1372.61" x2="112.79" y2="1377.47" stroke="#fff" stroke-width="0.4" stroke-opacity="0.11"/>
<line x1="124.54" y1="1354.55" x2="108.85" y2="1355.1" stroke="#fff" stroke-width="0.4" stroke-opacity="0.11"/>
<line x1="125.5" y1="1340.81" x2="110.04" y2="1338.08" stroke="#fff" stroke-width="0.4" stroke-opacity="0.11"/>
<line x1="142.2" y1="1307.31" x2="130.72" y2="1296.6" stroke="#fff" stroke-width="0.4" stroke-opacity="0.11"/>
<line x1="154.51" y1="1296.98" x2="145.96" y2="1283.81" stroke="#fff" stroke-width="0.4" stroke-opacity="0.11"/>
<line x1="171.13" y1="1289.23" x2="166.54" y2="1274.22" stroke="#fff" stroke-width="0.4" stroke-opacity="0.11"/>
<text x="250" y="1309.55" font-size="3.6" fill="#fff" text-anchor="middle" fill-opacity="0.9">家賃</text>
<text x="244.25" y="1335.55" font-size="3.6" fill="#fff" text-anchor="middle" fill-opacity="0.9">固定費</text>
<text x="257" y="1384.55" font-size="3.6" fill="#fff" text-anchor="middle" fill-opacity="0.9">水道光熱費</text>
<text x="248.75" y="1398.3" font-size="3.6" fill="#fff" text-anchor="middle" fill-opacity="0.9">通信費 (スマホ・ネット)</text>
<text x="188.75" y="1410.05" font-size="3.6" fill="#fff" text-anchor="middle" fill-opacity="0.9">変動費</text>
<text x="213.75" y="1423.3" font-size="3.6" fill="#fff" text-anchor="middle" fill-opacity="0.9">食費 (自炊)</text>
<text x="177.5" y="1425.8" font-size="3.6" fill="#fff" text-anchor="middle" fill-opacity="0.9">外食費</text>
<text x="133" y="1400.55" font-size="3.6" fill="#fff" text-anchor="middle" fill-opacity="0.9">飲み会・交際費</text>
<text x="122.5" y="1383.05" font-size="3.6" fill="#fff" text-anchor="middle" fill-opacity="0.9">サブスク・ゲーム・映画</text>
<text x="135.5" y="1367.05" font-size="3.6" fill="#fff" text-anchor="middle" fill-opacity="0.9">交際・娯楽</text>
<text x="116.75" y="1359.3" font-size="3.6" fill="#fff" text-anchor="middle" fill-opacity="0.9">旅行</text>
<text x="119.25" y="1335.55" font-size="3.6" fill="#fff" text-anchor="middle" fill-opacity="0.9">衣服・美容</text>
<text x="124.5" y="1320.05" font-size="3.6" fill="#fff" text-anchor="middle" fill-opacity="0.9">書籍・学習</text>
<text x="158" y="1306.8" font-size="3.6" fill="#fff" text-anchor="middle" fill-opacity="0.9">自己投資・貯金</text>
<text x="148" y="1292.8" font-size="3.6" fill="#fff" text-anchor="middle" fill-opacity="0.9">貯金</text>
<text x="178" y="1280.55" font-size="3.6" fill="#fff" text-anchor="middle" fill-opacity="0.9">投資</text>
<text x="190.8" y="1461.2" font-size="14.2" fill="#111" stroke="#111" stroke-width="0.2" text-anchor="middle"><tspan font-size="13.9" stroke-width="0.42">サンバーストチャート</tspan></text>
<text x="190.8" y="1478.4" font-size="14.2" fill="#111" stroke="#111" stroke-width="0.2" text-anchor="middle"><tspan letter-spacing="0.36" stroke-width="0.3">Sunburst Chart</tspan></text>
<defs><clipPath id="v0"><circle cx="421.5" cy="1312.75" r="52.7"/></clipPath><clipPath id="v1"><circle cx="494.38" cy="1312.75" r="52.7"/></clipPath><clipPath id="v2"><circle cx="458" cy="1375.62" r="52.7"/></clipPath><clipPath id="vu0"><circle cx="494.38" cy="1312.75" r="52.7"/><circle cx="458" cy="1375.62" r="52.7"/></clipPath><clipPath id="vu1"><circle cx="458" cy="1375.62" r="52.7"/><circle cx="421.5" cy="1312.75" r="52.7"/></clipPath><clipPath id="vu2"><circle cx="421.5" cy="1312.75" r="52.7"/><circle cx="494.38" cy="1312.75" r="52.7"/></clipPath></defs>
<circle cx="421.5" cy="1312.75" r="52.7" fill="#eeeeee"/>
<circle cx="494.38" cy="1312.75" r="52.7" fill="#eeeeee"/>
<circle cx="458" cy="1375.62" r="52.7" fill="#eeeeee"/>
<circle cx="494.38" cy="1312.75" r="52.7" fill="#dadada" clip-path="url(#v0)"/>
<circle cx="458" cy="1375.62" r="52.7" fill="#dadada" clip-path="url(#v1)"/>
<circle cx="421.5" cy="1312.75" r="52.7" fill="#dadada" clip-path="url(#v2)"/>
<circle cx="421.5" cy="1312.75" r="52.7" fill="none" stroke="#b0b0b0" stroke-width="0.4" clip-path="url(#vu0)"/>
<circle cx="494.38" cy="1312.75" r="52.7" fill="none" stroke="#b0b0b0" stroke-width="0.4" clip-path="url(#vu1)"/>
<circle cx="458" cy="1375.62" r="52.7" fill="none" stroke="#b0b0b0" stroke-width="0.4" clip-path="url(#vu2)"/>
<text x="382.5" y="1272.55" font-size="5" fill="#555" text-anchor="middle" stroke="#555" stroke-width="0.1">A</text>
<text x="533.25" y="1272.55" font-size="5" fill="#555" text-anchor="middle" stroke="#555" stroke-width="0.1">B</text>
<text x="501.5" y="1416.8" font-size="5" fill="#555" text-anchor="middle" stroke="#555" stroke-width="0.1">C</text>
<text x="413.75" y="1309.8" font-size="5" fill="#555" text-anchor="middle" stroke="#555" stroke-width="0.1">12</text>
<text x="502.25" y="1309.8" font-size="5" fill="#555" text-anchor="middle" stroke="#555" stroke-width="0.1">12</text>
<text x="458" y="1386.3" font-size="5" fill="#555" text-anchor="middle" stroke="#555" stroke-width="0.1">12</text>
<text x="457.75" y="1309.8" font-size="5" fill="#555" text-anchor="middle" stroke="#555" stroke-width="0.1">2</text>
<text x="436" y="1347.8" font-size="5" fill="#555" text-anchor="middle" stroke="#555" stroke-width="0.1">2</text>
<text x="479.5" y="1347.8" font-size="5" fill="#555" text-anchor="middle" stroke="#555" stroke-width="0.1">2</text>
<text x="458" y="1335.8" font-size="5" fill="#555" text-anchor="middle" stroke="#555" stroke-width="0.1">1</text>
<text x="459.3" y="1461.2" font-size="14.2" fill="#111" stroke="#111" stroke-width="0.2" text-anchor="middle"><tspan font-size="13.9" stroke-width="0.42">ベン図</tspan></text>
<text x="459.3" y="1478.4" font-size="14.2" fill="#111" stroke="#111" stroke-width="0.2" text-anchor="middle"><tspan letter-spacing="0.36" stroke-width="0.3">Venn Diagram</tspan></text>
<defs><clipPath id="eA"><circle cx="691.75" cy="1343.75" r="40"/></clipPath><clipPath id="eB"><circle cx="747.75" cy="1343.75" r="40.2"/></clipPath><clipPath id="eAB" clip-path="url(#eA)"><circle cx="747.75" cy="1343.75" r="40.2"/></clipPath></defs>
<circle cx="691.75" cy="1343.75" r="40" fill="#8884d8"/>
<circle cx="747.75" cy="1343.75" r="40.2" fill="#82ca9d"/>
<circle cx="719.75" cy="1294.5" r="37.5" fill="#ffc658"/>
<circle cx="719.75" cy="1392.5" r="37.5" fill="#ff8042"/>
<circle cx="747.75" cy="1343.75" r="40.2" fill="#d9d9d9" clip-path="url(#eA)"/>
<circle cx="719.75" cy="1294.5" r="37.5" fill="#d9d9d9" clip-path="url(#eA)"/>
<circle cx="719.75" cy="1392.5" r="37.5" fill="#d9d9d9" clip-path="url(#eA)"/>
<circle cx="719.75" cy="1294.5" r="37.5" fill="#d9d9d9" clip-path="url(#eB)"/>
<circle cx="719.75" cy="1392.5" r="37.5" fill="#d9d9d9" clip-path="url(#eB)"/>
<circle cx="719.75" cy="1294.5" r="37.5" fill="#a58d6e" clip-path="url(#eAB)"/>
<circle cx="719.75" cy="1392.5" r="37.5" fill="#9d8268" clip-path="url(#eAB)"/>
<defs><clipPath id="eC"><circle cx="719.75" cy="1294.5" r="37.5"/></clipPath><clipPath id="eD"><circle cx="719.75" cy="1392.5" r="37.5"/></clipPath><clipPath id="eCD"><circle cx="719.75" cy="1294.5" r="37.5"/><circle cx="719.75" cy="1392.5" r="37.5"/><circle cx="747.75" cy="1343.75" r="40.2"/></clipPath><clipPath id="eCDA"><circle cx="719.75" cy="1294.5" r="37.5"/><circle cx="719.75" cy="1392.5" r="37.5"/><circle cx="691.75" cy="1343.75" r="40"/></clipPath><clipPath id="eABu"><circle cx="691.75" cy="1343.75" r="40"/><circle cx="747.75" cy="1343.75" r="40.2"/></clipPath></defs>
<circle cx="691.75" cy="1343.75" r="40" fill="none" stroke="#555" stroke-width="0.5" clip-path="url(#eCD)"/>
<circle cx="747.75" cy="1343.75" r="40.2" fill="none" stroke="#555" stroke-width="0.5" clip-path="url(#eCDA)"/>
<circle cx="719.75" cy="1294.5" r="37.5" fill="none" stroke="#555" stroke-width="0.5" clip-path="url(#eABu)"/>
<circle cx="719.75" cy="1392.5" r="37.5" fill="none" stroke="#555" stroke-width="0.5" clip-path="url(#eABu)"/>
<text x="721.75" y="1252.3" font-size="5" fill="#555" text-anchor="middle" stroke="#555" stroke-width="0.1">C</text>
<text x="645.5" y="1342.55" font-size="5" fill="#555" text-anchor="middle" stroke="#555" stroke-width="0.1">A</text>
<text x="793.75" y="1342.55" font-size="5" fill="#555" text-anchor="middle" stroke="#555" stroke-width="0.1">B</text>
<text x="721.75" y="1433.05" font-size="5" fill="#555" text-anchor="middle" stroke="#555" stroke-width="0.1">D</text>
<text x="719.75" y="1284.8" font-size="5" fill="#555" text-anchor="middle" stroke="#555" stroke-width="0.1">12</text>
<text x="678.75" y="1345.55" font-size="5" fill="#555" text-anchor="middle" stroke="#555" stroke-width="0.1">12</text>
<text x="761" y="1345.55" font-size="5" fill="#555" text-anchor="middle" stroke="#555" stroke-width="0.1">12</text>
<text x="719.75" y="1405.8" font-size="5" fill="#555" text-anchor="middle" stroke="#555" stroke-width="0.1">12</text>
<text x="704.25" y="1318.05" font-size="5" fill="#555" text-anchor="middle" stroke="#555" stroke-width="0.1">2</text>
<text x="735" y="1318.05" font-size="5" fill="#555" text-anchor="middle" stroke="#555" stroke-width="0.1">2</text>
<text x="719" y="1345.55" font-size="5" fill="#555" text-anchor="middle" stroke="#555" stroke-width="0.1">2</text>
<text x="704.25" y="1372.55" font-size="5" fill="#555" text-anchor="middle" stroke="#555" stroke-width="0.1">2</text>
<text x="735" y="1372.55" font-size="5" fill="#555" text-anchor="middle" stroke="#555" stroke-width="0.1">2</text>
<text x="719.75" y="1326.3" font-size="5" fill="#555" text-anchor="middle" stroke="#555" stroke-width="0.1">1</text>
<text x="719.75" y="1363.55" font-size="5" fill="#555" text-anchor="middle" stroke="#555" stroke-width="0.1">1</text>
<text x="716" y="1460.5" font-size="14.2" fill="#111" stroke="#111" stroke-width="0.2" text-anchor="middle"><tspan font-size="13.9" stroke-width="0.42">オイラー図</tspan></text>
<text x="716" y="1477.7" font-size="14.2" fill="#111" stroke="#111" stroke-width="0.2" text-anchor="middle"><tspan letter-spacing="0.36" stroke-width="0.3">Euler Diagram</tspan></text>
<path d="M913.7 1245L960 1247.5M960 1247.5L1036.5 1247.5M1036.5 1247.5L1056.5 1298M1056.5 1298L1059 1308.5M1059 1308.5L1056.5 1392.5M1056.5 1392.5L993.5 1433.5M993.5 1433.5L924 1441.5M924 1441.5L860 1427M860 1427L856.5 1388M856.5 1388L858 1323M858 1323L864.5 1277.8M864.5 1277.8L913.7 1245M913.7 1245L1036.5 1247.5M864.5 1277.8L905.3 1255.3M913.7 1245L905.3 1255.3M913.7 1245L919.7 1259M905.3 1255.3L919.7 1259M905.3 1255.3L919.5 1296M919.7 1259L960 1247.5M919.7 1259L942 1272.2M919.7 1259L919.5 1296M960 1247.5L942 1272.2M960 1247.5L987 1292M960 1247.5L1023.5 1264M942 1272.2L919.5 1296M942 1272.2L944 1300M942 1272.2L938 1306.5M942 1272.2L987 1292M942 1272.2L968.5 1302.5M942 1272.2L944 1333M864.5 1277.8L919.5 1296M864.5 1277.8L887 1312.5M864.5 1277.8L874.5 1312.5M919.5 1296L887 1312.5M919.5 1296L915 1314.5M919.5 1296L927.5 1318.2M919.5 1296L938 1306.5M919.5 1296L944 1300M944 1300L968.5 1302.5M944 1300L938 1306.5M938 1306.5L927.5 1318.2M938 1306.5L929.5 1333M874.5 1312.5L887 1312.5M887 1312.5L915 1314.5M874.5 1312.5L858 1323M874.5 1312.5L866.5 1329M874.5 1312.5L892.5 1333M887 1312.5L892.5 1333M915 1314.5L927.5 1318.2M915 1314.5L892.5 1333M915 1314.5L929.5 1333M927.5 1318.2L944 1333M858 1323L866.5 1329M866.5 1329L892.5 1333M892.5 1333L929.5 1333M929.5 1333L944 1333M1036.5 1247.5L1023.5 1264M1036.5 1247.5L1012 1286M1036.5 1247.5L1030 1284M1023.5 1264L1030 1284M1023.5 1264L987 1292M1030 1284L1012 1286M1030 1284L1056.5 1298M1030 1284L1014 1306.5M1012 1286L987 1292M1012 1286L1014 1306.5M987 1292L1014 1306.5M987 1292L968.5 1302.5M987 1292L983.5 1306.5M968.5 1302.5L983.5 1306.5M983.5 1306.5L1014 1306.5M1014 1306.5L1056.5 1298M1014 1306.5L1059 1308.5M1014 1306.5L1050.5 1333.5M1014 1306.5L1017.5 1359.5M1014 1306.5L979 1331M1014 1306.5L983 1337.5M968.5 1302.5L944 1333M968.5 1302.5L979 1331M983.5 1306.5L979 1331M1059 1308.5L1050.5 1333.5M1050.5 1333.5L1056.5 1392.5M1050.5 1333.5L1017.5 1359.5M979 1331L944 1333M979 1331L983 1337.5M983 1337.5L975.5 1339M975.5 1339L944 1333M983 1337.5L1017.5 1359.5M975.5 1339L985 1355.5M983 1337.5L985 1355.5M985 1355.5L1017.5 1359.5M975.5 1339L981.5 1378M985 1355.5L981.5 1378M944 1333L981.5 1378M944 1333L930 1384.2M944 1333L923.5 1378M929.5 1333L923.5 1378M929.5 1333L898.5 1367.5M892.5 1333L898.5 1367.5M892.5 1333L887.5 1339M892.5 1333L872 1351.5M887.5 1339L872 1351.5M887.5 1339L898.5 1367.5M866.5 1329L887.5 1339M858 1323L872 1351.5M866.5 1329L872 1351.5M872 1351.5L856.5 1388M872 1351.5L870.5 1382M872 1351.5L898.5 1367.5M898.5 1367.5L870.5 1382M898.5 1367.5L913.5 1386.5M898.5 1367.5L923.5 1378M923.5 1378L913.5 1386.5M923.5 1378L930 1384.2M913.5 1386.5L930 1384.2M870.5 1382L913.5 1386.5M870.5 1382L856.5 1388M870.5 1382L899 1414.8M866 1386L899 1414.8M856.5 1388L866 1386M866 1386L860.8 1403.5M856.5 1388L860.8 1403.5M860.8 1403.5L899 1414.8M860.8 1403.5L860 1427M899 1414.8L860 1427M899 1414.8L913.5 1386.5M899 1414.8L930 1384.2M899 1414.8L924 1441.5M899 1414.8L947.5 1431.5M930 1384.2L947.5 1431.5M930 1384.2L964.5 1423.5M930 1384.2L981.5 1378M930 1384.2L973 1398.5M981.5 1378L973 1398.5M981.5 1378L995.5 1396.5M981.5 1378L1001.5 1392.5M981.5 1378L1017.5 1359.5M1017.5 1359.5L1001.5 1392.5M1017.5 1359.5L1056.5 1392.5M1001.5 1392.5L1056.5 1392.5M1001.5 1392.5L995.5 1396.5M1001.5 1392.5L993.5 1433.5M995.5 1396.5L989.5 1431.5M995.5 1396.5L973 1398.5M973 1398.5L964.5 1423.5M973 1398.5L989.5 1431.5M964.5 1423.5L989.5 1431.5M964.5 1423.5L947.5 1431.5M964.5 1423.5L959.5 1431.5M959.5 1431.5L989.5 1431.5M947.5 1431.5L924 1441.5M959.5 1431.5L924 1441.5M989.5 1431.5L993.5 1433.5" fill="none" stroke="#2a2a2a" stroke-width="0.5"/>
<text x="959" y="1461.2" font-size="14.2" fill="#111" stroke="#111" stroke-width="0.2" text-anchor="middle"><tspan font-size="13.9" stroke-width="0.42">ドロネー図</tspan></text>
<text x="959" y="1478.4" font-size="14.2" fill="#111" stroke="#111" stroke-width="0.2" text-anchor="middle"><tspan letter-spacing="0.36" stroke-width="0.3">Delaunay Triangulation</tspan></text>
</svg>
</body></html>
